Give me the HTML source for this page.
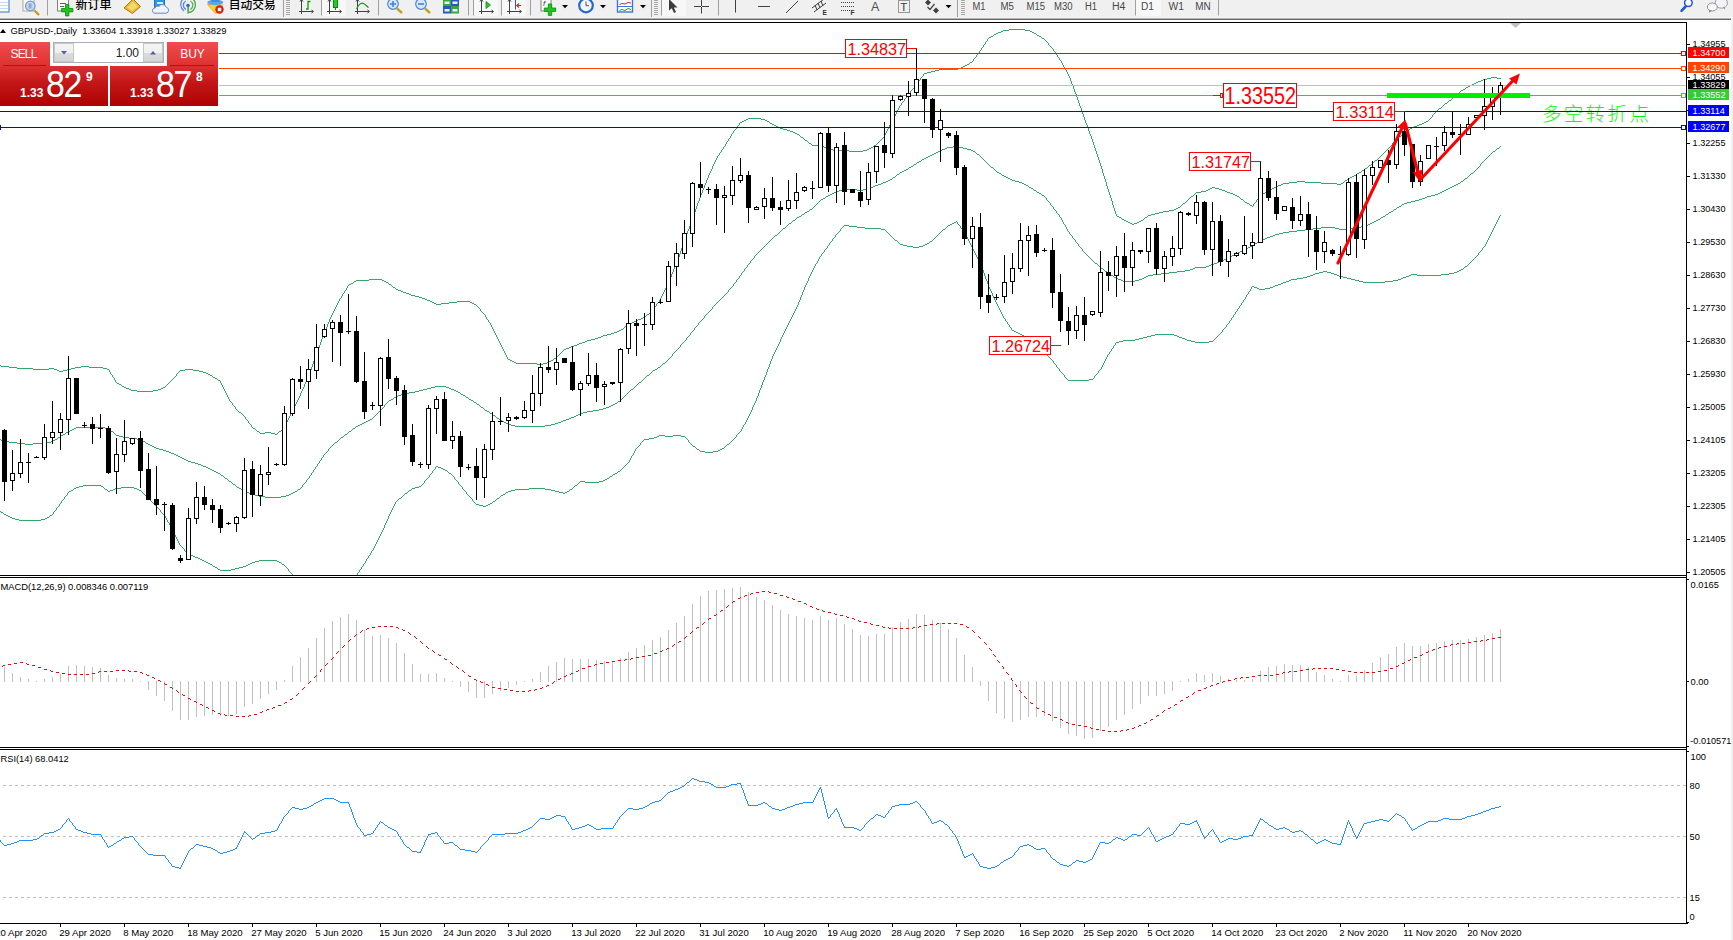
<!DOCTYPE html>
<html lang="zh">
<head>
<meta charset="utf-8">
<title>GBPUSD-,Daily</title>
<style>
html,body{margin:0;padding:0;background:#fff;}
body{width:1733px;height:940px;overflow:hidden;position:relative;font-family:"Liberation Sans","Noto Sans CJK SC",sans-serif;}
#tb{position:absolute;left:0;top:0;width:1733px;height:20px;background:#f0f0f0;overflow:hidden;}
#tb .ln1{position:absolute;left:0;top:17px;width:1733px;height:1px;background:#f6f6f6;}
#tb .ln2{position:absolute;left:0;top:18px;width:1731px;height:1px;background:#b4b4b4;}
#tb .ln3{position:absolute;left:0;top:19px;width:1731px;height:1px;background:#6a6a6a;}
#tb .zh{position:absolute;top:-7px;font-size:12px;line-height:16px;color:#000;font-weight:500;white-space:nowrap;letter-spacing:-0.3px;}
#tb .tf{position:absolute;top:0;font-size:10.5px;line-height:13px;color:#4a4a4a;white-space:nowrap;}
#panel{position:absolute;left:0;top:42px;width:219px;height:64px;background:#fff;}
#panel .sell,#panel .buy{position:absolute;top:0;height:25px;color:#fff;font-size:12px;line-height:24px;text-align:center;background:linear-gradient(#f24c4c,#dc3030);}
#panel .sell{left:0;width:50px;}
#panel .buy{left:167px;width:51px;}
#panel .sell i,#panel .buy i{position:absolute;left:3px;right:4px;bottom:1px;height:1px;background:#b81010;}
#panel .big{position:absolute;top:24px;height:40px;background:linear-gradient(#dc3030,#c41818 40%,#ae0202);color:#fff;}
#panel .bl{left:0;width:108px;}
#panel .br{left:110px;width:108px;}
#panel .sm{position:absolute;bottom:7px;font-size:12px;font-weight:bold;line-height:12px;}
#panel .lg{position:absolute;bottom:3px;font-size:36px;line-height:36px;letter-spacing:-1.5px;transform:scaleX(0.943);transform-origin:left bottom;}
#panel .sup{position:absolute;top:5px;font-size:12px;font-weight:bold;line-height:12px;}
#panel .spin{position:absolute;left:53px;top:0;width:109px;height:19px;border:1px solid #a8b0c0;background:#fff;}
#panel .spin .b{position:absolute;top:0;width:20px;height:19px;background:linear-gradient(#f4f4f4,#f0f0f0 50%,#dcdcdc 50%,#d4d4d4);border:1px solid #c8c8c8;box-sizing:border-box;}
#panel .spin .v{position:absolute;right:24px;top:2px;font-size:12px;line-height:16px;color:#202020;}
</style>
</head>
<body>
<div id="tb">
<svg width="1733" height="17" viewBox="0 0 1733 17" style="position:absolute;left:0;top:0" font-family='"Liberation Sans","Noto Sans CJK SC",sans-serif'>
<rect x="-2" y="-2" width="11" height="14" fill="#fff" stroke="#4a8fd6" stroke-width="1.2"/>
<g stroke="#c8d8f4" stroke-width="1"><line x1="0" y1="2.5" x2="8" y2="2.5"/><line x1="0" y1="5.5" x2="8" y2="5.5"/><line x1="0" y1="8.5" x2="8" y2="8.5"/></g>
<rect x="23" y="-2" width="11" height="13" fill="#fafafa" stroke="#b0a898" stroke-width="1"/>
<line x1="34.5" y1="10.5" x2="39" y2="15" stroke="#c89a20" stroke-width="2.4"/>
<circle cx="30.3" cy="6" r="4.8" fill="#c4daf2" stroke="#6c9cdc" stroke-width="1.2"/>
<rect x="28.5" y="3.5" width="3" height="5" fill="#98a8b8"/>
<rect x="47" y="0" width="1" height="15.5" fill="#a0a0a0"/>
<rect x="57.5" y="-2" width="11" height="13" fill="#fafafa" stroke="#808080" stroke-width="1"/>
<g stroke="#606060" stroke-width="1"><line x1="60" y1="3.5" x2="66" y2="3.5"/><line x1="60" y1="6.5" x2="64" y2="6.5"/></g>
<path d="M65.5 4.5h3.4v4h4v3.4h-4v4h-3.4v-4h-4v-3.4h4z" fill="#22c322" stroke="#0a8a0a" stroke-width="0.8"/>
<text x="75.5" y="8.6" font-size="12px" font-weight="500" fill="#000" textLength="36" lengthAdjust="spacingAndGlyphs">新订单</text>
<polygon points="124,8 133,-1 140.5,6.5 132.5,13.5" fill="#e8b830" stroke="#b07c10" stroke-width="1"/>
<polygon points="127,7.5 133,1.5 138,6.5 132,11" fill="#f6d868"/>
<rect x="154.5" y="-2" width="10" height="10" fill="#2896ee" stroke="#1878d0" stroke-width="1"/>
<rect x="157" y="2" width="6" height="2" fill="#d8ecff"/>
<path d="M154 13.2h12a3 3 0 0 0 .3-5.9a4 4 0 0 0-7.2-1a3 3 0 0 0-4 1.6a2.8 2.8 0 0 0-1.1 5.3z" fill="#eef2fa" stroke="#7088b8" stroke-width="1"/>
<g fill="none" stroke-width="1.3"><path d="M183 -1a8 8 0 0 0 1 12" stroke="#5c88d8"/><path d="M185.8 1a5 5 0 0 0 0 8.6" stroke="#5c88d8"/><path d="M193 -1a8 8 0 0 1-4 13.5" stroke="#48a848"/><path d="M190.4 1a5 5 0 0 1 0 8.6" stroke="#58b058"/></g>
<circle cx="188" cy="5.5" r="1.8" fill="#3060d0"/><rect x="187.4" y="6" width="1.4" height="7.5" fill="#30a030"/>
<path d="M207.5 4.5l15 .5l-1 6l-6 2.5z" fill="#f8d438" stroke="#d8a818" stroke-width="0.8"/>
<ellipse cx="215.3" cy="2.4" rx="8" ry="2.6" fill="#58a8e8"/><rect x="211" y="-2" width="8.5" height="4" fill="#3c90dc"/>
<circle cx="219.5" cy="9.5" r="4.2" fill="#dc2010"/><rect x="217.8" y="7.8" width="3.4" height="3.4" fill="#fff"/>
<text x="228.8" y="8.6" font-size="12px" font-weight="500" fill="#000" textLength="47" lengthAdjust="spacingAndGlyphs">自动交易</text>
<rect x="283" y="0" width="1" height="17" fill="#a0a0a0"/>
<rect x="286" y="0" width="4" height="1" fill="#a8a8a8"/>
<rect x="286" y="2" width="4" height="1" fill="#a8a8a8"/>
<rect x="286" y="4" width="4" height="1" fill="#a8a8a8"/>
<rect x="286" y="6" width="4" height="1" fill="#a8a8a8"/>
<rect x="286" y="8" width="4" height="1" fill="#a8a8a8"/>
<rect x="286" y="10" width="4" height="1" fill="#a8a8a8"/>
<rect x="286" y="12" width="4" height="1" fill="#a8a8a8"/>
<rect x="286" y="14" width="4" height="1" fill="#a8a8a8"/>
<g stroke="#404040" stroke-width="1" fill="none"><line x1="301.5" y1="0" x2="301.5" y2="14"/><line x1="299" y1="11.5" x2="313" y2="11.5"/><polyline points="311.5,10 313.5,11.5 311.5,13"/><polyline points="300,1.5 301.5,-0.5 303,1.5"/></g>
<path d="M310.5 1.5h-2.5v7.5h-2" fill="none" stroke="#109810" stroke-width="1.3"/>
<rect x="321" y="0" width="1" height="15.5" fill="#a0a0a0"/>
<rect x="322" y="0" width="24" height="16" fill="#f8f8f8"/>
<g stroke="#404040" stroke-width="1" fill="none"><line x1="329.5" y1="0" x2="329.5" y2="14"/><line x1="327" y1="11.5" x2="341" y2="11.5"/><polyline points="339.5,10 341.5,11.5 339.5,13"/><polyline points="328,1.5 329.5,-0.5 331,1.5"/></g>
<rect x="333.5" y="-1" width="4" height="8.5" fill="#22cc22" stroke="#0a8a0a" stroke-width="1"/><line x1="335.5" y1="7.5" x2="335.5" y2="10" stroke="#0a8a0a"/>
<g stroke="#404040" stroke-width="1" fill="none"><line x1="357.5" y1="0" x2="357.5" y2="14"/><line x1="355" y1="11.5" x2="369" y2="11.5"/><polyline points="367.5,10 369.5,11.5 367.5,13"/><polyline points="356,1.5 357.5,-0.5 359,1.5"/></g>
<path d="M356.5 9c2.5-5 5-6.5 7-5.5s3 2.500 5 4" fill="none" stroke="#109810" stroke-width="1.2"/>
<rect x="378" y="0" width="1" height="15.5" fill="#a0a0a0"/>
<line x1="397" y1="8.5" x2="402" y2="13" stroke="#c8a020" stroke-width="2.4"/>
<circle cx="393" cy="4" r="5.3" fill="#d4e8fa" stroke="#4c88d8" stroke-width="1.2"/>
<line x1="390" y1="4" x2="396" y2="4" stroke="#4c80d0" stroke-width="1.6"/>
<line x1="393" y1="1" x2="393" y2="7" stroke="#4c80d0" stroke-width="1.6"/>
<line x1="425" y1="8.5" x2="430" y2="13" stroke="#c8a020" stroke-width="2.4"/>
<circle cx="421" cy="4" r="5.3" fill="#d4e8fa" stroke="#4c88d8" stroke-width="1.2"/>
<line x1="418" y1="4" x2="424" y2="4" stroke="#4c80d0" stroke-width="1.6"/>
<rect x="443" y="-1" width="8" height="7" fill="#3aa83a"/><rect x="451" y="-1" width="8" height="7" fill="#2858c8"/><rect x="443" y="6" width="8" height="7.5" fill="#2858c8"/><rect x="451" y="6" width="8" height="7.5" fill="#3aa83a"/>
<g fill="#e8f0ff"><rect x="444.5" y="1.5" width="5" height="2.5"/><rect x="452.5" y="1.5" width="5" height="2.5"/><rect x="444.5" y="9" width="5" height="2.5"/><rect x="452.5" y="9" width="5" height="2.5"/></g>
<rect x="468" y="0" width="1" height="15.5" fill="#a0a0a0"/>
<rect x="473" y="0" width="1" height="15.5" fill="#a0a0a0"/>
<rect x="474" y="0" width="24" height="16" fill="#f8f8f8"/>
<g stroke="#404040" stroke-width="1" fill="none"><line x1="481.5" y1="0" x2="481.5" y2="14"/><line x1="479" y1="11.5" x2="493" y2="11.5"/><polyline points="491.5,10 493.5,11.5 491.5,13"/><polyline points="480,1.5 481.5,-0.5 483,1.5"/></g>
<polygon points="486,1.5 490.5,5 486,8.5" fill="#30c030" stroke="#109010" stroke-width="0.8"/>
<rect x="501" y="0" width="1" height="15.5" fill="#a0a0a0"/>
<rect x="502" y="0" width="24" height="16" fill="#f8f8f8"/>
<g stroke="#404040" stroke-width="1" fill="none"><line x1="509.5" y1="0" x2="509.5" y2="14"/><line x1="507" y1="11.5" x2="521" y2="11.5"/><polyline points="519.5,10 521.5,11.5 519.5,13"/><polyline points="508,1.5 509.5,-0.5 511,1.5"/></g>
<line x1="515.5" y1="0" x2="515.5" y2="9.5" stroke="#2060c0" stroke-width="1"/><path d="M521 5.5h-4m2-2l-2.200 2l2.200 2" fill="none" stroke="#d03010" stroke-width="1.2"/>
<rect x="530" y="0" width="1" height="15.5" fill="#a0a0a0"/>
<rect x="541" y="-2" width="10" height="13" fill="#fafafa" stroke="#808080" stroke-width="1"/>
<text x="543" y="6" font-size="8px" fill="#404040" font-style="italic">f</text>
<path d="M548.3 4h3.400v4h4v3.400h-4v4h-3.400v-4h-4v-3.400h4z" fill="#22c322" stroke="#0a8a0a" stroke-width="0.8"/>
<polygon points="562,5 568,5 565,8.2" fill="#000"/>
<circle cx="586" cy="5.5" r="6.800" fill="#f4f8ff" stroke="#2868c8" stroke-width="2.2"/><path d="M586 1.500v4.200h3" fill="none" stroke="#505050" stroke-width="1"/>
<polygon points="600,5 606,5 603,8.2" fill="#000"/>
<rect x="617.5" y="-2" width="15" height="14" fill="#fff" stroke="#3c78d0" stroke-width="1.4"/><line x1="618" y1="6.500" x2="632" y2="6.500" stroke="#3c78d0"/>
<polyline points="619.5,4.5 622,3.500 625,4 628,2.500 631,3" fill="none" stroke="#c03020" stroke-width="1"/><polyline points="619.5,10.5 622,9.500 625,10.500 628,8.500 631,9.500" fill="none" stroke="#20a020" stroke-width="1"/>
<polygon points="640,5 646,5 643,8.2" fill="#000"/>
<rect x="651" y="0" width="1" height="17" fill="#a0a0a0"/>
<rect x="654" y="0" width="4" height="1" fill="#a8a8a8"/>
<rect x="654" y="2" width="4" height="1" fill="#a8a8a8"/>
<rect x="654" y="4" width="4" height="1" fill="#a8a8a8"/>
<rect x="654" y="6" width="4" height="1" fill="#a8a8a8"/>
<rect x="654" y="8" width="4" height="1" fill="#a8a8a8"/>
<rect x="654" y="10" width="4" height="1" fill="#a8a8a8"/>
<rect x="654" y="12" width="4" height="1" fill="#a8a8a8"/>
<rect x="654" y="14" width="4" height="1" fill="#a8a8a8"/>
<rect x="661" y="0" width="1" height="15.5" fill="#a0a0a0"/>
<rect x="662" y="0" width="24" height="16" fill="#f8f8f8"/>
<polygon points="669,-1 669,10.500 671.8,8.200 674,13 676,12 673.800,7.500 677.5,7.500" fill="#3c3c3c"/>
<g stroke="#404040" stroke-width="1"><line x1="701.5" y1="0" x2="701.5" y2="13.5"/><line x1="694" y1="6.500" x2="709" y2="6.500"/></g>
<rect x="701" y="6" width="1" height="1" fill="#f0f0f0"/>
<rect x="718" y="0" width="1" height="15.5" fill="#a0a0a0"/>
<g stroke="#404040" stroke-width="1"><line x1="735.5" y1="0" x2="735.5" y2="12.5"/><line x1="758" y1="6.500" x2="770" y2="6.500"/><line x1="786" y1="13" x2="798" y2="1"/></g>
<g stroke="#404040" stroke-width="1"><line x1="812" y1="8" x2="824" y2="-1"/><line x1="814" y1="12" x2="826" y2="3"/><line x1="815" y1="5" x2="817" y2="10"/><line x1="818" y1="3" x2="820" y2="8"/><line x1="821" y1="1" x2="823" y2="6"/></g>
<text x="822.500" y="14.800" font-size="6.500px" font-weight="bold" fill="#303030">E</text>
<line x1="841" y1="2.5" x2="854" y2="2.5" stroke="#404040" stroke-width="1" stroke-dasharray="1 1"/>
<line x1="841" y1="6.5" x2="854" y2="6.5" stroke="#404040" stroke-width="1" stroke-dasharray="1 1"/>
<line x1="841" y1="10.5" x2="850" y2="10.5" stroke="#404040" stroke-width="1" stroke-dasharray="1 1"/>
<text x="850.500" y="14.800" font-size="6.500px" font-weight="bold" fill="#303030">F</text>
<text x="871" y="11" font-size="12.500px" fill="#505050">A</text>
<rect x="898.5" y="0.5" width="11" height="12" fill="none" stroke="#404040" stroke-width="1" stroke-dasharray="1 1"/>
<text x="900.300" y="11" font-size="11.500px" fill="#404040">T</text>
<polygon points="928,-0.500 931,2.500 928,5.500 925,2.500" fill="#404040"/><polygon points="936,7.500 939,10.500 936,13.500 933,10.500" fill="#404040"/><polyline points="927.5,7 930,9.500 934.5,4" fill="none" stroke="#404040" stroke-width="1.2"/>
<polygon points="945.5,5 951.5,5 948.5,8.2" fill="#000"/>
<rect x="957" y="0" width="1" height="17" fill="#a0a0a0"/>
<rect x="961" y="0" width="4" height="1" fill="#a8a8a8"/>
<rect x="961" y="2" width="4" height="1" fill="#a8a8a8"/>
<rect x="961" y="4" width="4" height="1" fill="#a8a8a8"/>
<rect x="961" y="6" width="4" height="1" fill="#a8a8a8"/>
<rect x="961" y="8" width="4" height="1" fill="#a8a8a8"/>
<rect x="961" y="10" width="4" height="1" fill="#a8a8a8"/>
<rect x="961" y="12" width="4" height="1" fill="#a8a8a8"/>
<rect x="961" y="14" width="4" height="1" fill="#a8a8a8"/>
<rect x="1136" y="0" width="25" height="16" fill="#f8f8f8"/>
<text x="972.5" y="10" font-size="10px" fill="#484848" textLength="13" lengthAdjust="spacingAndGlyphs">M1</text>
<text x="1000.5" y="10" font-size="10px" fill="#484848" textLength="13.5" lengthAdjust="spacingAndGlyphs">M5</text>
<text x="1026.5" y="10" font-size="10px" fill="#484848" textLength="18.5" lengthAdjust="spacingAndGlyphs">M15</text>
<text x="1054" y="10" font-size="10px" fill="#484848" textLength="18.5" lengthAdjust="spacingAndGlyphs">M30</text>
<text x="1085" y="10" font-size="10px" fill="#484848" textLength="12" lengthAdjust="spacingAndGlyphs">H1</text>
<text x="1112" y="10" font-size="10px" fill="#484848" textLength="13.5" lengthAdjust="spacingAndGlyphs">H4</text>
<text x="1141" y="10" font-size="10px" fill="#484848" textLength="13" lengthAdjust="spacingAndGlyphs">D1</text>
<text x="1168.5" y="10" font-size="10px" fill="#484848" textLength="15.5" lengthAdjust="spacingAndGlyphs">W1</text>
<text x="1195.3" y="10" font-size="10px" fill="#484848" textLength="15.5" lengthAdjust="spacingAndGlyphs">MN</text>
<rect x="1135" y="0" width="1" height="15.5" fill="#a0a0a0"/>
<rect x="1218" y="0" width="1" height="15.5" fill="#a0a0a0"/>
<line x1="1686" y1="6" x2="1681.5" y2="10.800" stroke="#2458d0" stroke-width="2.6" stroke-linecap="round"/><circle cx="1688.4" cy="2.800" r="3.800" fill="#fff" stroke="#2458d0" stroke-width="1.5"/>
<ellipse cx="1721.3" cy="3" rx="6.200" ry="5.200" fill="#f4f4f8" stroke="#a0a0a0" stroke-width="1"/><polygon points="1723,7.500 1725,9.800 1724.5,7" fill="#808080"/>
<ellipse cx="1712.3" cy="7" rx="5" ry="4" fill="#f8f8fa" stroke="#909090" stroke-width="1"/><polygon points="1709.500,10 1709,12.800 1711.500,10.800" fill="#707070"/>
</svg>
<div class="ln1"></div><div class="ln2"></div><div class="ln3"></div>
</div>
<svg width="1733" height="940" viewBox="0 0 1733 940" style="position:absolute;left:0;top:0" font-family='"Liberation Sans","Noto Sans CJK SC",sans-serif' font-size="9.3px" shape-rendering="crispEdges">
<defs><clipPath id="cm"><rect x="0" y="23" width="1686" height="552"/></clipPath><clipPath id="c2"><rect x="0" y="578" width="1686" height="169"/></clipPath><clipPath id="c3"><rect x="0" y="750" width="1686" height="173"/></clipPath></defs>
<rect x="0" y="20" width="1733" height="920" fill="#fff"/>
<rect x="1731" y="20" width="2" height="920" fill="#f0f0f0"/>
<rect x="0" y="22" width="1687" height="1" fill="#000"/>
<rect x="1686" y="22" width="1" height="902" fill="#000"/>
<rect x="0" y="575" width="1687" height="1" fill="#000"/>
<rect x="0" y="577" width="1687" height="1" fill="#000"/>
<rect x="0" y="747" width="1687" height="1" fill="#000"/>
<rect x="0" y="749" width="1687" height="1" fill="#000"/>
<rect x="0" y="923" width="1688" height="1" fill="#000"/>
<g clip-path="url(#cm)">
<path d="M0 365.5h1M1 366.5h8M9 367.5h8M17 368.5h16M33 369.5h16M49 368.5h5M54 369.5h3M57 370.5h2M59 371.5h4M63 370.5h4M67 369.5h4M71 368.5h4M75 367.5h6M81 366.5h8M89 367.5h14M103 368.5h4M107 369.5h2M109.5 370v2M110.5 372v2M111 374.5h1M112.5 375v2M113 377.5h1M114.5 378v2M115.5 380v2M116 382.5h1M117 383.5h2M119 384.5h2M121 385.5h1M122 386.5h2M124 387.5h2M126 388.5h3M129 389.5h2M131 390.5h6M137 391.5h16M153 390.5h5M158 389.5h3M161 388.5h2M163 387.5h2M165 386.5h1M166 385.5h1M167 384.5h1M168 383.5h1M169 382.5h1M170 381.5h1M171 380.5h1M172 379.5h1M173 378.5h1M174 377.5h1M175 376.5h1M176.5 374v2M177 373.5h1M178 372.5h1M179 371.5h1M180 370.5h5M185 369.5h8M193 370.5h6M199 371.5h4M203 372.5h3M206 373.5h2M208 374.5h2M210 375.5h2M212 376.5h1M213 377.5h2M215 378.5h2M217 379.5h1M218 380.5h2M220.5 381v2M221.5 383v2M222.5 385v2M223.5 387v2M224.5 389v2M225.5 391v2M226.5 393v2M227.5 395v2M228.5 397v2M229.5 399v2M230 401.5h1M231 402.5h1M232.5 403v2M233 405.5h1M234 406.5h1M235.5 407v2M236 409.5h1M237 410.5h1M238 411.5h1M239 412.5h2M241 413.5h1M242 414.5h1M243 415.5h1M244 416.5h1M245.5 417v2M246 419.5h1M247 420.5h1M248.5 421v2M249 423.5h1M250 424.5h1M251.5 425v2M252 427.5h1M253 428.5h2M255 429.5h1M256 430.5h1M257 431.5h2M259 432.5h1M260 433.5h5M265 432.5h6M271 433.5h4M275 434.5h2M277 433.5h1M278 432.5h1M279 431.5h2M281 430.5h1M282 429.5h1M283 428.5h1M284.5 426v2M285.5 424v2M286.5 422v2M287.5 420v2M288.5 418v2M289.5 416v2M290.5 414v2M291.5 412v2M292.5 410v2M293.5 408v2M294.5 406v2M295.5 404v2M296.5 402v2M297.5 400v2M298.5 398v2M299.5 396v2M300.5 393v3M301.5 391v2M302.5 389v2M303.5 387v2M304.5 384v3M305.5 382v2M306.5 380v2M307.5 378v2M308.5 375v3M309.5 372v3M310.5 370v2M311.5 367v3M312.5 364v3M313.5 361v3M314.5 359v2M315.5 356v3M316.5 353v3M317.5 350v3M318.5 348v2M319.5 345v3M320.5 342v3M321.5 339v3M322.5 337v2M323.5 334v3M324.5 331v3M325.5 329v2M326.5 327v2M327.5 324v3M328.5 322v2M329.5 319v3M330.5 317v2M331.5 315v2M332.5 313v2M333.5 311v2M334.5 309v2M335.5 307v2M336.5 305v2M337.5 303v2M338.5 301v2M339.5 299v2M340 298.5h1M341.5 296v2M342.5 294v2M343 293.5h1M344.5 291v2M345 290.5h1M346.5 288v2M347.5 286v2M348 285.5h1M349 284.5h2M351 283.5h2M353 282.5h1M354 281.5h2M356 280.5h13M369 279.5h13M382 280.5h2M384 281.5h2M386 282.5h2M388 283.5h1M389 284.5h2M391 285.5h1M392 286.5h1M393 287.5h2M395 288.5h1M396 289.5h2M398 290.5h3M401 291.5h2M403 292.5h3M406 293.5h3M409 294.5h2M411 295.5h4M415 296.5h4M419 297.5h3M422 298.5h3M425 299.5h2M427 300.5h3M430 301.5h2M432 302.5h2M434 303.5h2M436 304.5h5M441 303.5h8M449 302.5h8M457 301.5h13M470 302.5h2M472 303.5h2M474 304.5h2M476 305.5h1M477 306.5h1M478 307.5h1M479 308.5h1M480.5 309v2M481 311.5h1M482 312.5h1M483 313.5h1M484 314.5h1M485.5 315v2M486.5 317v2M487 319.5h1M488.5 320v2M489 322.5h1M490.5 323v2M491.5 325v2M492.5 327v2M493.5 329v2M494.5 331v2M495.5 333v2M496.5 335v2M497.5 337v2M498.5 339v2M499.5 341v2M500.5 343v2M501.5 345v2M502.5 347v2M503.5 349v2M504.5 351v2M505.5 353v2M506.5 355v2M507.5 357v2M508 359.5h2M510 360.5h2M512 361.5h2M514 362.5h2M516 363.5h21M537 364.5h6M543 363.5h4M547 362.5h2M549 361.5h2M551 360.5h2M553 359.5h1M554 358.5h2M556 357.5h1M557 356.5h1M558 355.5h1M559 354.5h1M560 353.5h1M561 352.5h1M562 351.5h1M563 350.5h1M564 349.5h2M566 348.5h3M569 347.5h2M571 346.5h3M574 345.5h3M577 344.5h2M579 343.5h3M582 342.5h3M585 341.5h2M587 340.5h4M591 339.5h4M595 338.5h3M598 337.5h3M601 336.5h2M603 335.5h4M607 334.5h4M611 333.5h3M614 332.5h3M617 331.5h2M619 330.5h2M621 329.5h2M623 328.5h1M624 327.5h1M625 326.5h2M627 325.5h1M628 324.5h2M630 323.5h2M632 322.5h2M634 321.5h2M636 320.5h2M638 319.5h3M641 318.5h2M643 317.5h2M645 316.5h1M646 315.5h1M647 314.5h2M649 313.5h1M650 312.5h1M651 311.5h1M652 310.5h1M653.5 308v2M654 307.5h1M655 306.5h1M656.5 304v2M657 303.5h1M658 302.5h1M659.5 300v2M660.5 298v2M661.5 296v2M662.5 294v2M663.5 292v2M664.5 290v2M665.5 288v2M666.5 286v2M667.5 284v2M668.5 281v3M669.5 279v2M670.5 277v2M671.5 274v3M672.5 272v2M673.5 269v3M674.5 267v2M675.5 265v2M676.5 262v3M677.5 259v3M678.5 257v2M679.5 254v3M680.5 251v3M681.5 248v3M682.5 246v2M683.5 243v3M684.5 240v3M685.5 237v3M686.5 234v3M687.5 231v3M688.5 229v2M689.5 226v3M690.5 223v3M691.5 220v3M692.5 217v3M693.5 214v3M694.5 212v2M695.5 209v3M696.5 206v3M697.5 203v3M698.5 201v2M699.5 198v3M700.5 195v3M701.5 193v2M702.5 190v3M703.5 188v2M704.5 185v3M705.5 183v2M706.5 180v3M707.5 178v2M708.5 175v3M709.5 173v2M710.5 171v2M711.5 169v2M712.5 166v3M713.5 164v2M714.5 162v2M715.5 160v2M716.5 158v2M717.5 156v2M718 155.5h1M719.5 153v2M720 152.5h1M721.5 150v2M722 149.5h1M723.5 147v2M724 146.5h1M725.5 144v2M726.5 142v2M727 141.5h1M728.5 139v2M729 138.5h1M730.5 136v2M731.5 134v2M732 133.5h1M733.5 131v2M734 130.5h1M735 129.5h1M736.5 127v2M737 126.5h1M738 125.5h1M739.5 123v2M740 122.5h2M742 121.5h2M744 120.5h2M746 119.5h2M748 118.5h13M761 119.5h4M765 120.5h2M767 121.5h2M769 122.5h1M770 123.5h2M772 124.5h2M774 125.5h2M776 126.5h2M778 127.5h2M780 128.5h3M783 129.5h4M787 130.5h3M790 131.5h3M793 132.5h2M795 133.5h2M797 134.5h2M799 135.5h1M800 136.5h1M801 137.5h2M803 138.5h1M804 139.5h1M805 140.5h2M807 141.5h1M808 142.5h1M809 143.5h2M811 144.5h1M812 145.5h10M822 146.5h2M824 147.5h2M826 148.5h2M828 149.5h5M833 150.5h16M849 151.5h14M863 150.5h4M867 149.5h2M869 148.5h2M871 147.5h2M873 146.5h1M874 145.5h2M876 144.5h1M877 143.5h1M878 142.5h1M879 141.5h1M880 140.5h1M881 139.5h1M882 138.5h1M883 137.5h1M884.5 135v2M885.5 133v2M886.5 131v2M887.5 129v2M888.5 127v2M889.5 125v2M890.5 123v2M891.5 121v2M892 120.5h1M893.5 118v2M894.5 116v2M895.5 114v2M896.5 112v2M897.5 110v2M898.5 108v2M899.5 106v2M900 105.5h1M901.5 103v2M902 102.5h1M903 101.5h1M904.5 99v2M905 98.5h1M906 97.5h1M907.5 95v2M908 94.5h1M909 93.5h1M910.5 91v2M911 90.5h1M912 89.5h1M913 88.5h1M914.5 86v2M915 85.5h1M916 84.5h1M917.5 82v2M918 81.5h1M919 80.5h1M920.5 78v2M921 77.5h1M922 76.5h1M923.5 74v2M924 73.5h3M927 72.5h4M931 71.5h4M935 70.5h4M939 69.5h19M958 68.5h3M961 67.5h2M963 66.5h2M965 65.5h2M967 64.5h2M969 63.5h1M970 62.5h2M972 61.5h1M973.5 59v2M974 58.5h1M975 57.5h1M976.5 55v2M977 54.5h1M978 53.5h1M979.5 51v2M980 50.5h1M981.5 48v2M982 47.5h1M983.5 45v2M984 44.5h1M985.5 42v2M986 41.5h1M987.5 39v2M988 38.5h1M989 37.5h2M991 36.5h2M993 35.5h1M994 34.5h2M996 33.5h2M998 32.5h3M1001 31.5h2M1003 30.5h6M1009 29.5h16M1025 30.5h5M1030 31.5h2M1032 32.5h2M1034 33.5h2M1036 34.5h1M1037 35.5h2M1039 36.5h2M1041 37.5h1M1042 38.5h2M1044 39.5h1M1045 40.5h1M1046 41.5h1M1047 42.5h1M1048.5 43v2M1049 45.5h1M1050 46.5h1M1051 47.5h1M1052 48.5h1M1053.5 49v2M1054 51.5h1M1055.5 52v2M1056 54.5h1M1057.5 55v2M1058 57.5h1M1059.5 58v2M1060 60.5h1M1061.5 61v2M1062.5 63v2M1063.5 65v2M1064 67.5h1M1065.5 68v2M1066.5 70v2M1067.5 72v2M1068.5 74v2M1069.5 76v2M1070.5 78v3M1071.5 81v3M1072.5 84v2M1073.5 86v3M1074.5 89v3M1075.5 92v2M1076.5 94v3M1077.5 97v3M1078.5 100v3M1079.5 103v3M1080.5 106v2M1081.5 108v3M1082.5 111v3M1083.5 114v3M1084.5 117v3M1085.5 120v3M1086.5 123v2M1087.5 125v3M1088.5 128v3M1089.5 131v3M1090.5 134v2M1091.5 136v3M1092.5 139v3M1093.5 142v3M1094.5 145v3M1095.5 148v3M1096.5 151v3M1097.5 154v3M1098.5 157v3M1099.5 160v3M1100.5 163v3M1101.5 166v3M1102.5 169v4M1103.5 173v3M1104.5 176v3M1105.5 179v3M1106.5 182v4M1107.5 186v3M1108.5 189v3M1109.5 192v3M1110.5 195v3M1111.5 198v3M1112.5 201v4M1113.5 205v3M1114.5 208v3M1115.5 211v3M1116.5 214v2M1117 216.5h2M1119 217.5h2M1121 218.5h1M1122 219.5h2M1124 220.5h2M1126 221.5h2M1128 222.5h2M1130 223.5h2M1132 224.5h2M1134 223.5h3M1137 222.5h2M1139 221.5h2M1141 220.5h2M1143 219.5h1M1144 218.5h1M1145 217.5h2M1147 216.5h1M1148 215.5h3M1151 214.5h4M1155 213.5h4M1159 212.5h4M1163 211.5h6M1169 210.5h5M1174 209.5h2M1176 208.5h2M1178 207.5h2M1180 206.5h1M1181 205.5h1M1182 204.5h1M1183 203.5h2M1185 202.5h1M1186 201.5h1M1187 200.5h1M1188 199.5h1M1189 198.5h1M1190 197.5h1M1191 196.5h2M1193 195.5h1M1194 194.5h1M1195 193.5h1M1196 192.5h5M1201 191.5h5M1206 190.5h2M1208 189.5h2M1210 188.5h2M1212 187.5h3M1215 188.5h4M1219 189.5h3M1222 190.5h3M1225 191.5h2M1227 192.5h3M1230 193.5h3M1233 194.5h2M1235 195.5h2M1237 196.5h2M1239 197.5h1M1240 198.5h1M1241 199.5h2M1243 200.5h1M1244 201.5h1M1245 202.5h2M1247 203.5h2M1249 204.5h1M1250 205.5h2M1252 206.5h1M1253.5 204v2M1254 203.5h1M1255 202.5h1M1256.5 200v2M1257 199.5h1M1258 198.5h1M1259.5 196v2M1260 195.5h1M1261 194.5h2M1263 193.5h2M1265 192.5h1M1266 191.5h2M1268 190.5h2M1270 189.5h2M1272 188.5h2M1274 187.5h2M1276 186.5h2M1278 185.5h3M1281 184.5h2M1283 183.5h6M1289 182.5h8M1297 181.5h8M1305 182.5h16M1321 183.5h16M1337 184.5h4M1341 183.5h2M1343 182.5h1M1344 181.5h1M1345 180.5h2M1347 179.5h1M1348 178.5h2M1350 177.5h2M1352 176.5h2M1354 175.5h2M1356 174.5h1M1357 173.5h2M1359 172.5h2M1361 171.5h1M1362 170.5h2M1364 169.5h1M1365 168.5h2M1367 167.5h1M1368 166.5h1M1369 165.5h2M1371 164.5h1M1372 163.5h1M1373 162.5h1M1374 161.5h1M1375 160.5h2M1377 159.5h1M1378 158.5h1M1379 157.5h1M1380 156.5h1M1381 155.5h1M1382 154.5h1M1383 153.5h1M1384 152.5h1M1385 151.5h1M1386 150.5h1M1387 149.5h1M1388 148.5h1M1389 147.5h1M1390 146.5h1M1391 145.5h1M1392.5 143v2M1393 142.5h1M1394 141.5h1M1395 140.5h1M1396 139.5h1M1397 138.5h1M1398 137.5h1M1399 136.5h2M1401 135.5h1M1402 134.5h1M1403 133.5h1M1404 132.5h1M1405 131.5h2M1407 130.5h2M1409 129.5h1M1410 128.5h2M1412 127.5h2M1414 126.5h3M1417 125.5h2M1419 124.5h3M1422 123.5h2M1424 122.5h2M1426 121.5h2M1428 120.5h1M1429 119.5h1M1430 118.5h1M1431 117.5h1M1432.5 115v2M1433 114.5h1M1434 113.5h1M1435 112.5h1M1436 111.5h1M1437 110.5h1M1438 109.5h1M1439 108.5h2M1441 107.5h1M1442 106.5h1M1443 105.5h1M1444 104.5h1M1445 103.5h2M1447 102.5h1M1448 101.5h1M1449 100.5h2M1451 99.5h1M1452 98.5h1M1453 97.5h1M1454 96.5h1M1455 95.5h2M1457 94.5h1M1458 93.5h1M1459 92.5h1M1460 91.5h1M1461 90.5h2M1463 89.5h2M1465 88.5h1M1466 87.5h2M1468 86.5h2M1470 85.5h2M1472 84.5h2M1474 83.5h2M1476 82.5h2M1478 81.5h3M1481 80.5h2M1483 79.5h4M1487 78.5h4M1491 77.5h6M1497 78.5h4" fill="none" stroke="#2fa968" stroke-width="1"/>
<path d="M0 439.5h1M1 440.5h2M3 441.5h6M9 442.5h8M17 443.5h8M25 444.5h8M33 443.5h14M47 442.5h4M51 441.5h2M53 440.5h2M55 439.5h2M57 438.5h1M58 437.5h2M60 436.5h1M61 435.5h2M63 434.5h2M65 433.5h1M66 432.5h2M68 431.5h2M70 430.5h2M72 429.5h2M74 428.5h2M76 427.5h29M105 428.5h4M109 429.5h1M110 430.5h1M111 431.5h2M113 432.5h1M114 433.5h1M115 434.5h1M116 435.5h3M119 436.5h4M123 437.5h6M129 438.5h8M137 439.5h4M141 440.5h2M143 441.5h2M145 442.5h1M146 443.5h2M148 444.5h2M150 445.5h2M152 446.5h2M154 447.5h2M156 448.5h3M159 449.5h4M163 450.5h3M166 451.5h3M169 452.5h2M171 453.5h3M174 454.5h2M176 455.5h2M178 456.5h2M180 457.5h2M182 458.5h2M184 459.5h2M186 460.5h2M188 461.5h3M191 462.5h4M195 463.5h3M198 464.5h3M201 465.5h2M203 466.5h3M206 467.5h2M208 468.5h2M210 469.5h2M212 470.5h2M214 471.5h2M216 472.5h2M218 473.5h2M220 474.5h1M221 475.5h2M223 476.5h1M224 477.5h1M225 478.5h2M227 479.5h1M228 480.5h1M229 481.5h2M231 482.5h1M232 483.5h1M233 484.5h2M235 485.5h1M236 486.5h1M237 487.5h2M239 488.5h2M241 489.5h1M242 490.5h2M244 491.5h2M246 492.5h3M249 493.5h2M251 494.5h4M255 495.5h4M259 496.5h6M265 497.5h16M281 496.5h5M286 495.5h3M289 494.5h2M291 493.5h2M293 492.5h2M295 491.5h2M297 490.5h1M298 489.5h2M300 488.5h1M301 487.5h1M302.5 485v2M303 484.5h1M304 483.5h1M305 482.5h1M306.5 480v2M307 479.5h1M308 478.5h1M309.5 476v2M310 475.5h1M311.5 473v2M312 472.5h1M313.5 470v2M314 469.5h1M315.5 467v2M316 466.5h1M317.5 464v2M318 463.5h1M319.5 461v2M320 460.5h1M321.5 458v2M322 457.5h1M323.5 455v2M324 454.5h1M325 453.5h1M326 452.5h1M327 451.5h1M328.5 449v2M329 448.5h1M330 447.5h1M331 446.5h1M332 445.5h1M333 444.5h1M334 443.5h1M335 442.5h2M337 441.5h1M338 440.5h1M339 439.5h1M340 438.5h1M341 437.5h2M343 436.5h1M344 435.5h1M345 434.5h2M347 433.5h1M348 432.5h1M349 431.5h2M351 430.5h1M352 429.5h1M353 428.5h2M355 427.5h1M356 426.5h2M358 425.5h2M360 424.5h2M362 423.5h2M364 422.5h2M366 421.5h2M368 420.5h2M370 419.5h2M372 418.5h1M373 417.5h1M374 416.5h1M375 415.5h1M376 414.5h1M377 413.5h1M378 412.5h1M379 411.5h1M380 410.5h1M381 409.5h1M382 408.5h1M383 407.5h1M384.5 405v2M385 404.5h1M386 403.5h1M387 402.5h1M388 401.5h1M389 400.5h2M391 399.5h2M393 398.5h1M394 397.5h2M396 396.5h2M398 395.5h3M401 394.5h2M403 393.5h6M409 392.5h6M415 391.5h4M419 390.5h4M423 389.5h4M427 388.5h4M431 387.5h4M435 386.5h11M446 387.5h3M449 388.5h2M451 389.5h3M454 390.5h2M456 391.5h2M458 392.5h2M460 393.5h1M461 394.5h2M463 395.5h2M465 396.5h1M466 397.5h2M468 398.5h1M469 399.5h2M471 400.5h2M473 401.5h1M474 402.5h2M476 403.5h1M477 404.5h2M479 405.5h1M480 406.5h1M481 407.5h2M483 408.5h1M484 409.5h1M485 410.5h2M487 411.5h2M489 412.5h1M490 413.5h2M492 414.5h1M493 415.5h2M495 416.5h1M496 417.5h1M497 418.5h2M499 419.5h1M500 420.5h2M502 421.5h2M504 422.5h2M506 423.5h2M508 424.5h3M511 425.5h4M515 426.5h30M545 425.5h6M551 424.5h4M555 423.5h3M558 422.5h3M561 421.5h2M563 420.5h3M566 419.5h3M569 418.5h2M571 417.5h3M574 416.5h2M576 415.5h2M578 414.5h2M580 413.5h3M583 412.5h4M587 411.5h6M593 410.5h6M599 409.5h4M603 408.5h3M606 407.5h3M609 406.5h2M611 405.5h2M613 404.5h2M615 403.5h2M617 402.5h1M618 401.5h2M620 400.5h1M621 399.5h1M622 398.5h1M623 397.5h1M624 396.5h1M625 395.5h1M626 394.5h1M627 393.5h1M628 392.5h1M629 391.5h1M630 390.5h1M631 389.5h2M633 388.5h1M634 387.5h1M635 386.5h1M636 385.5h1M637 384.5h1M638 383.5h1M639 382.5h2M641 381.5h1M642 380.5h1M643 379.5h1M644 378.5h1M645 377.5h1M646 376.5h1M647 375.5h2M649 374.5h1M650 373.5h1M651 372.5h1M652 371.5h1M653 370.5h2M655 369.5h2M657 368.5h1M658 367.5h2M660 366.5h1M661 365.5h1M662 364.5h1M663 363.5h2M665 362.5h1M666 361.5h1M667 360.5h1M668 359.5h1M669 358.5h1M670 357.5h1M671 356.5h1M672.5 354v2M673 353.5h1M674 352.5h1M675 351.5h1M676 350.5h1M677 349.5h1M678 348.5h1M679 347.5h1M680.5 345v2M681 344.5h1M682 343.5h1M683 342.5h1M684 341.5h1M685 340.5h1M686.5 338v2M687 337.5h1M688 336.5h1M689 335.5h1M690.5 333v2M691 332.5h1M692 331.5h1M693 330.5h1M694.5 328v2M695 327.5h1M696 326.5h1M697 325.5h1M698.5 323v2M699 322.5h1M700 321.5h1M701 320.5h1M702 319.5h1M703 318.5h1M704.5 316v2M705 315.5h1M706 314.5h1M707 313.5h1M708 312.5h1M709 311.5h1M710 310.5h1M711 309.5h1M712.5 307v2M713 306.5h1M714 305.5h1M715 304.5h1M716 303.5h1M717 302.5h1M718 301.5h1M719 300.5h1M720 299.5h1M721 298.5h1M722 297.5h1M723 296.5h1M724 295.5h1M725 294.5h1M726 293.5h1M727 292.5h1M728.5 290v2M729 289.5h1M730 288.5h1M731 287.5h1M732 286.5h1M733.5 284v2M734 283.5h1M735 282.5h1M736.5 280v2M737 279.5h1M738 278.5h1M739.5 276v2M740 275.5h1M741.5 273v2M742 272.5h1M743 271.5h1M744.5 269v2M745 268.5h1M746 267.5h1M747.5 265v2M748 264.5h1M749 263.5h1M750.5 261v2M751 260.5h1M752 259.5h1M753 258.5h1M754.5 256v2M755 255.5h1M756 254.5h1M757 253.5h1M758 252.5h1M759 251.5h1M760 250.5h1M761 249.5h1M762 248.5h1M763 247.5h1M764 246.5h1M765 245.5h1M766 244.5h1M767 243.5h1M768 242.5h1M769 241.5h1M770 240.5h1M771 239.5h1M772 238.5h1M773 237.5h1M774 236.5h1M775 235.5h2M777 234.5h1M778 233.5h1M779 232.5h1M780 231.5h1M781 230.5h1M782 229.5h1M783 228.5h2M785 227.5h1M786 226.5h1M787 225.5h1M788 224.5h1M789 223.5h2M791 222.5h1M792 221.5h1M793 220.5h2M795 219.5h1M796 218.5h1M797 217.5h2M799 216.5h2M801 215.5h1M802 214.5h2M804 213.5h1M805 212.5h2M807 211.5h2M809 210.5h1M810 209.5h2M812 208.5h1M813 207.5h1M814 206.5h1M815 205.5h1M816 204.5h1M817 203.5h1M818 202.5h1M819 201.5h1M820 200.5h1M821 199.5h2M823 198.5h2M825 197.5h1M826 196.5h2M828 195.5h2M830 194.5h2M832 193.5h2M834 192.5h2M836 191.5h3M839 190.5h4M843 189.5h14M857 190.5h6M863 189.5h4M867 188.5h3M870 187.5h3M873 186.5h2M875 185.5h3M878 184.5h3M881 183.5h2M883 182.5h3M886 181.5h2M888 180.5h2M890 179.5h2M892 178.5h1M893 177.5h2M895 176.5h1M896 175.5h1M897 174.5h2M899 173.5h1M900 172.5h2M902 171.5h2M904 170.5h2M906 169.5h2M908 168.5h1M909 167.5h2M911 166.5h2M913 165.5h1M914 164.5h2M916 163.5h1M917 162.5h2M919 161.5h2M921 160.5h1M922 159.5h2M924 158.5h2M926 157.5h2M928 156.5h2M930 155.5h2M932 154.5h2M934 153.5h2M936 152.5h2M938 151.5h2M940 150.5h2M942 149.5h3M945 148.5h2M947 147.5h6M953 146.5h6M959 147.5h4M963 148.5h4M967 149.5h4M971 150.5h2M973 151.5h2M975 152.5h1M976 153.5h1M977 154.5h2M979 155.5h1M980 156.5h1M981 157.5h1M982 158.5h1M983 159.5h1M984 160.5h1M985 161.5h1M986 162.5h1M987 163.5h1M988 164.5h1M989 165.5h1M990 166.5h1M991 167.5h2M993 168.5h1M994 169.5h1M995 170.5h1M996 171.5h1M997 172.5h2M999 173.5h2M1001 174.5h1M1002 175.5h2M1004 176.5h2M1006 177.5h2M1008 178.5h2M1010 179.5h2M1012 180.5h3M1015 181.5h4M1019 182.5h3M1022 183.5h2M1024 184.5h2M1026 185.5h2M1028 186.5h1M1029 187.5h2M1031 188.5h2M1033 189.5h1M1034 190.5h2M1036 191.5h1M1037 192.5h2M1039 193.5h2M1041 194.5h1M1042 195.5h2M1044 196.5h1M1045 197.5h1M1046.5 198v2M1047 200.5h1M1048 201.5h1M1049 202.5h1M1050.5 203v2M1051 205.5h1M1052 206.5h1M1053.5 207v2M1054 209.5h1M1055 210.5h1M1056.5 211v2M1057 213.5h1M1058 214.5h1M1059.5 215v2M1060 217.5h1M1061.5 218v2M1062.5 220v2M1063.5 222v2M1064 224.5h1M1065.5 225v2M1066.5 227v2M1067.5 229v2M1068 231.5h1M1069.5 232v2M1070 234.5h1M1071 235.5h1M1072.5 236v2M1073 238.5h1M1074 239.5h1M1075.5 240v2M1076 242.5h1M1077 243.5h1M1078.5 244v2M1079 246.5h1M1080 247.5h1M1081 248.5h1M1082.5 249v2M1083 251.5h1M1084 252.5h1M1085 253.5h1M1086 254.5h1M1087 255.5h1M1088 256.5h1M1089 257.5h1M1090 258.5h1M1091 259.5h1M1092 260.5h1M1093 261.5h1M1094 262.5h1M1095 263.5h2M1097 264.5h1M1098 265.5h1M1099 266.5h1M1100 267.5h1M1101 268.5h2M1103 269.5h1M1104 270.5h1M1105 271.5h2M1107 272.5h1M1108 273.5h1M1109 274.5h2M1111 275.5h2M1113 276.5h1M1114 277.5h2M1116 278.5h2M1118 279.5h3M1121 280.5h2M1123 281.5h12M1135 280.5h4M1139 279.5h3M1142 278.5h2M1144 277.5h2M1146 276.5h2M1148 275.5h5M1153 274.5h8M1161 273.5h8M1169 272.5h8M1177 271.5h8M1185 270.5h5M1190 269.5h3M1193 268.5h2M1195 267.5h11M1206 266.5h3M1209 265.5h2M1211 264.5h3M1214 263.5h3M1217 262.5h2M1219 261.5h3M1222 260.5h2M1224 259.5h2M1226 258.5h2M1228 257.5h2M1230 256.5h2M1232 255.5h2M1234 254.5h2M1236 253.5h2M1238 252.5h2M1240 251.5h2M1242 250.5h2M1244 249.5h2M1246 248.5h2M1248 247.5h2M1250 246.5h2M1252 245.5h1M1253 244.5h2M1255 243.5h2M1257 242.5h1M1258 241.5h2M1260 240.5h2M1262 239.5h3M1265 238.5h2M1267 237.5h3M1270 236.5h3M1273 235.5h2M1275 234.5h4M1279 233.5h4M1283 232.5h6M1289 231.5h8M1297 230.5h8M1305 229.5h8M1313 228.5h8M1321 227.5h14M1335 228.5h4M1339 229.5h12M1351 228.5h4M1355 227.5h6M1361 226.5h5M1366 225.5h2M1368 224.5h2M1370 223.5h2M1372 222.5h2M1374 221.5h2M1376 220.5h2M1378 219.5h2M1380 218.5h1M1381 217.5h2M1383 216.5h2M1385 215.5h1M1386 214.5h2M1388 213.5h1M1389 212.5h2M1391 211.5h2M1393 210.5h1M1394 209.5h2M1396 208.5h1M1397 207.5h2M1399 206.5h2M1401 205.5h1M1402 204.5h2M1404 203.5h3M1407 202.5h4M1411 201.5h4M1415 200.5h4M1419 199.5h3M1422 198.5h3M1425 197.5h2M1427 196.5h4M1431 195.5h4M1435 194.5h3M1438 193.5h2M1440 192.5h2M1442 191.5h2M1444 190.5h2M1446 189.5h2M1448 188.5h2M1450 187.5h2M1452 186.5h2M1454 185.5h2M1456 184.5h2M1458 183.5h2M1460 182.5h1M1461 181.5h2M1463 180.5h1M1464 179.5h1M1465 178.5h2M1467 177.5h1M1468 176.5h1M1469 175.5h1M1470 174.5h1M1471 173.5h2M1473 172.5h1M1474 171.5h1M1475 170.5h1M1476 169.5h1M1477 168.5h1M1478 167.5h1M1479 166.5h1M1480.5 164v2M1481 163.5h1M1482 162.5h1M1483 161.5h1M1484 160.5h1M1485 159.5h1M1486 158.5h1M1487 157.5h1M1488 156.5h1M1489 155.5h1M1490 154.5h1M1491 153.5h1M1492 152.5h1M1493 151.5h2M1495 150.5h1M1496 149.5h1M1497 148.5h2M1499 147.5h1M1500 146.5h1" fill="none" stroke="#2fa968" stroke-width="1"/>
<path d="M0 511.5h1M1 512.5h2M3 513.5h1M4 514.5h2M6 515.5h2M8 516.5h2M10 517.5h2M12 518.5h3M15 519.5h4M19 520.5h22M41 519.5h4M45 518.5h2M47 517.5h2M49 516.5h1M50 515.5h2M52 514.5h1M53.5 512v2M54 511.5h1M55 510.5h1M56.5 508v2M57 507.5h1M58 506.5h1M59.5 504v2M60 503.5h1M61.5 501v2M62 500.5h1M63 499.5h1M64.5 497v2M65 496.5h1M66 495.5h1M67.5 493v2M68 492.5h1M69 491.5h2M71 490.5h2M73 489.5h1M74 488.5h2M76 487.5h3M79 486.5h4M83 485.5h18M101 486.5h2M103 487.5h1M104 488.5h1M105 489.5h2M107 490.5h1M108 491.5h2M110 490.5h3M113 489.5h2M115 488.5h6M121 487.5h13M134 488.5h3M137 489.5h2M139 490.5h2M141 491.5h1M142 492.5h1M143 493.5h1M144 494.5h1M145 495.5h1M146 496.5h1M147 497.5h1M148 498.5h1M149 499.5h1M150 500.5h1M151 501.5h1M152 502.5h1M153 503.5h1M154 504.5h1M155 505.5h1M156 506.5h1M157 507.5h1M158 508.5h1M159 509.5h1M160.5 510v2M161 512.5h1M162 513.5h1M163 514.5h1M164 515.5h1M165.5 516v2M166.5 518v2M167.5 520v2M168 522.5h1M169.5 523v2M170.5 525v2M171.5 527v2M172.5 529v2M173.5 531v2M174.5 533v2M175.5 535v2M176.5 537v2M177.5 539v2M178.5 541v2M179.5 543v2M180 545.5h1M181 546.5h1M182 547.5h1M183 548.5h1M184.5 549v2M185 551.5h1M186 552.5h1M187 553.5h1M188 554.5h2M190 555.5h3M193 556.5h2M195 557.5h3M198 558.5h2M200 559.5h2M202 560.5h2M204 561.5h2M206 562.5h2M208 563.5h2M210 564.5h2M212 565.5h1M213 566.5h2M215 567.5h2M217 568.5h1M218 569.5h2M220 570.5h11M231 569.5h4M235 568.5h4M239 567.5h4M243 566.5h3M246 565.5h2M248 564.5h2M250 563.5h2M252 562.5h3M255 561.5h4M259 560.5h18M277 561.5h2M279 562.5h2M281 563.5h1M282 564.5h2M284 565.5h1M285 566.5h1M286 567.5h1M287 568.5h1M288.5 569v2M289 571.5h1M290 572.5h1M291 573.5h1M292 574.5h1M293.5 575v2M294.5 577v2M295.5 579v2M296 581.5h1M297.5 582v2M298.5 584v2M299.5 586v2M300 588.5h1M301.5 589v2M302 591.5h1M303 592.5h1M304.5 593v2M305 595.5h1M306 596.5h1M307.5 597v2M308 599.5h5M313 600.5h28M341 599.5h1M342 598.5h1M343 597.5h1M344.5 595v2M345 594.5h1M346 593.5h1M347 592.5h1M348.5 590v2M349.5 588v2M350.5 586v2M351.5 584v2M352.5 582v2M353.5 580v2M354.5 578v2M355.5 576v2M356 575.5h1M357.5 573v2M358 572.5h1M359.5 570v2M360 569.5h1M361.5 567v2M362 566.5h1M363.5 564v2M364 563.5h1M365.5 561v2M366.5 559v2M367 558.5h1M368.5 556v2M369 555.5h1M370.5 553v2M371.5 551v2M372 550.5h1M373.5 548v2M374.5 546v2M375.5 544v2M376.5 542v2M377.5 540v2M378.5 538v2M379.5 536v2M380.5 534v2M381.5 532v2M382.5 530v2M383.5 528v2M384.5 525v3M385.5 523v2M386.5 521v2M387.5 519v2M388.5 516v3M389.5 514v2M390.5 512v2M391.5 510v2M392.5 508v2M393.5 506v2M394.5 504v2M395.5 502v2M396 501.5h1M397 500.5h1M398 499.5h1M399 498.5h2M401 497.5h1M402 496.5h1M403 495.5h1M404 494.5h1M405 493.5h2M407 492.5h1M408 491.5h1M409 490.5h2M411 489.5h1M412 488.5h3M415 487.5h4M419 486.5h2M421 485.5h1M422 484.5h1M423 483.5h1M424.5 481v2M425 480.5h1M426 479.5h1M427 478.5h1M428 477.5h1M429.5 475v2M430 474.5h1M431 473.5h1M432.5 471v2M433 470.5h1M434 469.5h1M435.5 467v2M436 466.5h2M438 467.5h3M441 468.5h2M443 469.5h2M445 470.5h2M447 471.5h1M448 472.5h1M449 473.5h2M451 474.5h1M452 475.5h1M453 476.5h1M454.5 477v2M455 479.5h1M456 480.5h1M457 481.5h1M458.5 482v2M459 484.5h1M460 485.5h1M461 486.5h1M462.5 487v2M463 489.5h1M464 490.5h1M465 491.5h1M466.5 492v2M467 494.5h1M468 495.5h1M469 496.5h1M470 497.5h1M471 498.5h1M472.5 499v2M473 501.5h1M474 502.5h1M475 503.5h1M476 504.5h3M479 505.5h4M483 506.5h3M486 505.5h2M488 504.5h2M490 503.5h2M492 502.5h1M493 501.5h2M495 500.5h1M496 499.5h1M497 498.5h2M499 497.5h1M500 496.5h1M501 495.5h2M503 494.5h2M505 493.5h1M506 492.5h2M508 491.5h3M511 490.5h4M515 489.5h14M529 488.5h16M545 489.5h6M551 490.5h4M555 491.5h4M559 492.5h4M563 493.5h2M565 492.5h2M567 491.5h2M569 490.5h1M570 489.5h2M572 488.5h1M573 487.5h1M574 486.5h1M575 485.5h2M577 484.5h1M578 483.5h1M579 482.5h1M580 481.5h5M585 482.5h14M599 481.5h4M603 480.5h2M605 479.5h2M607 478.5h2M609 477.5h1M610 476.5h2M612 475.5h1M613 474.5h2M615 473.5h2M617 472.5h1M618 471.5h2M620 470.5h1M621 469.5h1M622 468.5h1M623 467.5h1M624 466.5h1M625 465.5h1M626 464.5h1M627 463.5h1M628 462.5h1M629.5 460v2M630.5 458v2M631.5 456v2M632 455.5h1M633.5 453v2M634.5 451v2M635.5 449v2M636 448.5h1M637 447.5h1M638 446.5h1M639 445.5h1M640.5 443v2M641 442.5h1M642 441.5h1M643 440.5h1M644 439.5h5M649 438.5h5M654 437.5h3M657 436.5h2M659 435.5h6M665 436.5h8M673 435.5h8M681 436.5h4M685 437.5h1M686 438.5h1M687 439.5h1M688.5 440v2M689 442.5h1M690 443.5h1M691 444.5h1M692 445.5h1M693 446.5h2M695 447.5h1M696 448.5h1M697 449.5h2M699 450.5h1M700 451.5h5M705 452.5h8M713 451.5h5M718 450.5h2M720 449.5h2M722 448.5h2M724 447.5h1M725 446.5h1M726 445.5h1M727 444.5h2M729 443.5h1M730 442.5h1M731 441.5h1M732 440.5h1M733 439.5h1M734 438.5h1M735 437.5h1M736.5 435v2M737 434.5h1M738 433.5h1M739 432.5h1M740 431.5h1M741.5 429v2M742.5 427v2M743.5 425v2M744 424.5h1M745.5 422v2M746.5 420v2M747.5 418v2M748.5 416v2M749.5 414v2M750.5 412v2M751.5 410v2M752.5 407v3M753.5 405v2M754.5 403v2M755.5 401v2M756.5 398v3M757.5 396v2M758.5 393v3M759.5 390v3M760.5 388v2M761.5 385v3M762.5 382v3M763.5 380v2M764.5 377v3M765.5 375v2M766.5 372v3M767.5 369v3M768.5 367v2M769.5 364v3M770.5 361v3M771.5 359v2M772.5 356v3M773.5 354v2M774.5 352v2M775.5 350v2M776.5 348v2M777.5 346v2M778.5 344v2M779.5 342v2M780.5 339v3M781.5 337v2M782.5 335v2M783.5 333v2M784.5 331v2M785.5 329v2M786.5 327v2M787.5 325v2M788.5 323v2M789.5 321v2M790.5 319v2M791.5 317v2M792.5 315v2M793.5 313v2M794.5 311v2M795.5 309v2M796.5 307v2M797.5 305v2M798.5 302v3M799.5 300v2M800.5 297v3M801.5 295v2M802.5 292v3M803.5 290v2M804.5 287v3M805.5 285v2M806.5 283v2M807.5 281v2M808.5 278v3M809.5 276v2M810.5 274v2M811.5 272v2M812.5 270v2M813.5 268v2M814.5 266v2M815.5 264v2M816 263.5h1M817.5 261v2M818.5 259v2M819.5 257v2M820 256.5h1M821.5 254v2M822 253.5h1M823 252.5h1M824.5 250v2M825 249.5h1M826 248.5h1M827.5 246v2M828 245.5h1M829.5 243v2M830 242.5h1M831 241.5h1M832.5 239v2M833 238.5h1M834 237.5h1M835.5 235v2M836 234.5h1M837 233.5h1M838 232.5h1M839 231.5h1M840.5 229v2M841 228.5h1M842 227.5h1M843 226.5h1M844 225.5h5M849 226.5h8M857 227.5h8M865 228.5h16M881 229.5h4M885 230.5h1M886 231.5h1M887 232.5h1M888 233.5h1M889 234.5h1M890 235.5h1M891 236.5h1M892 237.5h1M893 238.5h1M894 239.5h1M895 240.5h2M897 241.5h1M898 242.5h1M899 243.5h1M900 244.5h3M903 245.5h4M907 246.5h6M913 247.5h6M919 246.5h4M923 245.5h2M925 244.5h2M927 243.5h2M929 242.5h1M930 241.5h2M932 240.5h1M933 239.5h1M934 238.5h1M935 237.5h1M936 236.5h1M937 235.5h1M938 234.5h1M939 233.5h1M940 232.5h1M941 231.5h1M942 230.5h1M943 229.5h2M945 228.5h1M946 227.5h1M947 226.5h1M948 225.5h2M950 224.5h2M952 223.5h2M954 222.5h2M956 221.5h1M957.5 222v2M958 224.5h1M959 225.5h1M960.5 226v2M961 228.5h1M962 229.5h1M963.5 230v2M964 232.5h1M965.5 233v2M966.5 235v2M967.5 237v2M968.5 239v2M969.5 241v2M970.5 243v2M971.5 245v2M972.5 247v2M973.5 249v2M974.5 251v2M975.5 253v2M976.5 255v2M977.5 257v2M978.5 259v2M979.5 261v2M980.5 263v2M981.5 265v3M982.5 268v2M983.5 270v3M984.5 273v3M985.5 276v3M986.5 279v2M987.5 281v3M988.5 284v3M989.5 287v2M990.5 289v2M991.5 291v2M992.5 293v3M993.5 296v2M994.5 298v2M995.5 300v2M996.5 302v2M997.5 304v2M998.5 306v2M999.5 308v2M1000.5 310v2M1001.5 312v2M1002.5 314v2M1003.5 316v2M1004 318.5h1M1005.5 319v2M1006 321.5h1M1007.5 322v2M1008 324.5h1M1009.5 325v2M1010 327.5h1M1011.5 328v2M1012 330.5h2M1014 331.5h2M1016 332.5h2M1018 333.5h2M1020 334.5h2M1022 335.5h2M1024 336.5h2M1026 337.5h2M1028 338.5h1M1029 339.5h2M1031 340.5h1M1032 341.5h1M1033 342.5h2M1035 343.5h1M1036 344.5h1M1037 345.5h1M1038 346.5h1M1039 347.5h1M1040 348.5h1M1041 349.5h1M1042 350.5h1M1043 351.5h1M1044 352.5h1M1045 353.5h1M1046 354.5h1M1047 355.5h1M1048 356.5h1M1049 357.5h1M1050 358.5h1M1051 359.5h1M1052 360.5h1M1053.5 361v2M1054 363.5h1M1055 364.5h1M1056.5 365v2M1057 367.5h1M1058 368.5h1M1059.5 369v2M1060 371.5h1M1061 372.5h1M1062 373.5h1M1063 374.5h1M1064.5 375v2M1065 377.5h1M1066 378.5h1M1067 379.5h1M1068 380.5h21M1089 379.5h4M1093 378.5h1M1094.5 376v2M1095 375.5h1M1096 374.5h1M1097 373.5h1M1098.5 371v2M1099 370.5h1M1100 369.5h1M1101.5 367v2M1102.5 365v2M1103.5 363v2M1104.5 361v2M1105.5 359v2M1106.5 357v2M1107.5 355v2M1108 354.5h1M1109.5 352v2M1110 351.5h1M1111.5 349v2M1112 348.5h1M1113.5 346v2M1114 345.5h1M1115.5 343v2M1116 342.5h3M1119 341.5h4M1123 340.5h12M1135 339.5h4M1139 338.5h4M1143 337.5h4M1147 336.5h4M1151 335.5h4M1155 334.5h19M1174 335.5h3M1177 336.5h2M1179 337.5h3M1182 338.5h3M1185 339.5h2M1187 340.5h4M1191 341.5h4M1195 342.5h14M1209 341.5h4M1213 340.5h1M1214 339.5h1M1215 338.5h1M1216 337.5h1M1217 336.5h1M1218 335.5h1M1219 334.5h1M1220 333.5h1M1221 332.5h1M1222.5 330v2M1223 329.5h1M1224 328.5h1M1225 327.5h1M1226.5 325v2M1227 324.5h1M1228 323.5h1M1229.5 321v2M1230 320.5h1M1231.5 318v2M1232 317.5h1M1233.5 315v2M1234 314.5h1M1235.5 312v2M1236 311.5h1M1237.5 309v2M1238 308.5h1M1239.5 306v2M1240 305.5h1M1241.5 303v2M1242 302.5h1M1243.5 300v2M1244 299.5h1M1245.5 297v2M1246.5 295v2M1247 294.5h1M1248.5 292v2M1249 291.5h1M1250.5 289v2M1251.5 287v2M1252 286.5h2M1254 287.5h3M1257 288.5h2M1259 289.5h6M1265 288.5h5M1270 287.5h3M1273 286.5h2M1275 285.5h3M1278 284.5h3M1281 283.5h2M1283 282.5h3M1286 281.5h3M1289 280.5h2M1291 279.5h6M1297 278.5h6M1303 277.5h4M1307 276.5h3M1310 275.5h3M1313 274.5h2M1315 273.5h4M1319 272.5h4M1323 271.5h4M1327 272.5h4M1331 273.5h3M1334 274.5h3M1337 275.5h2M1339 276.5h4M1343 277.5h4M1347 278.5h4M1351 279.5h4M1355 280.5h4M1359 281.5h4M1363 282.5h22M1385 281.5h8M1393 280.5h5M1398 279.5h3M1401 278.5h2M1403 277.5h3M1406 276.5h3M1409 275.5h2M1411 274.5h6M1417 275.5h24M1441 274.5h8M1449 273.5h5M1454 272.5h3M1457 271.5h2M1459 270.5h2M1461 269.5h2M1463 268.5h1M1464 267.5h1M1465 266.5h2M1467 265.5h1M1468 264.5h1M1469 263.5h1M1470 262.5h1M1471 261.5h1M1472 260.5h1M1473 259.5h1M1474 258.5h1M1475 257.5h1M1476 256.5h1M1477 255.5h1M1478.5 253v2M1479 252.5h1M1480 251.5h1M1481 250.5h1M1482.5 248v2M1483 247.5h1M1484 246.5h1M1485.5 244v2M1486.5 242v2M1487.5 240v2M1488.5 238v2M1489.5 236v2M1490.5 234v2M1491.5 232v2M1492.5 230v2M1493.5 228v2M1494.5 226v2M1495.5 224v2M1496.5 222v2M1497.5 220v2M1498.5 218v2M1499.5 216v2M1500 215.5h1" fill="none" stroke="#2fa968" stroke-width="1"/>
<text x="1542" y="121.3" font-size="19.5px" fill="#00ff00" font-weight="300" shape-rendering="auto" textLength="107">多空转折点</text>
<rect x="0" y="53" width="1686" height="1" fill="#ff0000"/>
<rect x="0" y="68" width="1686" height="1" fill="#ff4500"/>
<rect x="0" y="85" width="1686" height="1" fill="#c0c0c0"/>
<rect x="0" y="95" width="1686" height="1" fill="#32cd32"/>
<rect x="0" y="111" width="1686" height="1" fill="#0000ff"/>
<rect x="0" y="127" width="1686" height="1" fill="#0000ff"/>
<g fill="#000">
<rect x="4" y="429" width="1" height="72"/>
<rect x="2" y="430" width="5" height="52"/>
<rect x="12" y="450" width="1" height="41"/>
<rect x="10" y="473" width="5" height="8"/>
<rect x="11" y="474" width="3" height="6" fill="#fff"/>
<rect x="20" y="439" width="1" height="39"/>
<rect x="18" y="462" width="5" height="12"/>
<rect x="19" y="463" width="3" height="10" fill="#fff"/>
<rect x="28" y="453" width="1" height="30"/>
<rect x="26" y="462" width="5" height="1"/>
<rect x="36" y="456" width="1" height="2"/>
<rect x="34" y="457" width="5" height="1"/>
<rect x="44" y="424" width="1" height="36"/>
<rect x="42" y="437" width="5" height="21"/>
<rect x="43" y="438" width="3" height="19" fill="#fff"/>
<rect x="52" y="401" width="1" height="43"/>
<rect x="50" y="432" width="5" height="6"/>
<rect x="51" y="433" width="3" height="4" fill="#fff"/>
<rect x="60" y="413" width="1" height="37"/>
<rect x="58" y="419" width="5" height="14"/>
<rect x="59" y="420" width="3" height="12" fill="#fff"/>
<rect x="68" y="356" width="1" height="79"/>
<rect x="66" y="378" width="5" height="42"/>
<rect x="67" y="379" width="3" height="40" fill="#fff"/>
<rect x="76" y="378" width="1" height="36"/>
<rect x="74" y="378" width="5" height="36"/>
<rect x="84" y="422" width="1" height="6"/>
<rect x="82" y="425" width="5" height="1"/>
<rect x="92" y="417" width="1" height="27"/>
<rect x="90" y="424" width="5" height="5"/>
<rect x="100" y="414" width="1" height="24"/>
<rect x="98" y="428" width="5" height="1"/>
<rect x="108" y="426" width="1" height="48"/>
<rect x="106" y="428" width="5" height="45"/>
<rect x="116" y="438" width="1" height="56"/>
<rect x="114" y="454" width="5" height="18"/>
<rect x="115" y="455" width="3" height="16" fill="#fff"/>
<rect x="124" y="420" width="1" height="42"/>
<rect x="122" y="441" width="5" height="14"/>
<rect x="123" y="442" width="3" height="12" fill="#fff"/>
<rect x="132" y="438" width="1" height="7"/>
<rect x="130" y="438" width="5" height="6"/>
<rect x="131" y="439" width="3" height="4" fill="#fff"/>
<rect x="140" y="431" width="1" height="57"/>
<rect x="138" y="438" width="5" height="33"/>
<rect x="148" y="453" width="1" height="47"/>
<rect x="146" y="469" width="5" height="31"/>
<rect x="156" y="466" width="1" height="49"/>
<rect x="154" y="499" width="5" height="6"/>
<rect x="164" y="502" width="1" height="29"/>
<rect x="162" y="504" width="5" height="1"/>
<rect x="172" y="503" width="1" height="47"/>
<rect x="170" y="505" width="5" height="44"/>
<rect x="180" y="555" width="1" height="8"/>
<rect x="178" y="558" width="5" height="3"/>
<rect x="188" y="508" width="1" height="52"/>
<rect x="186" y="518" width="5" height="42"/>
<rect x="187" y="519" width="3" height="40" fill="#fff"/>
<rect x="196" y="482" width="1" height="42"/>
<rect x="194" y="497" width="5" height="22"/>
<rect x="195" y="498" width="3" height="20" fill="#fff"/>
<rect x="204" y="486" width="1" height="24"/>
<rect x="202" y="497" width="5" height="8"/>
<rect x="212" y="499" width="1" height="24"/>
<rect x="210" y="505" width="5" height="5"/>
<rect x="220" y="505" width="1" height="28"/>
<rect x="218" y="509" width="5" height="19"/>
<rect x="228" y="522" width="1" height="3"/>
<rect x="226" y="523" width="5" height="1"/>
<rect x="236" y="516" width="1" height="16"/>
<rect x="234" y="517" width="5" height="7"/>
<rect x="235" y="518" width="3" height="5" fill="#fff"/>
<rect x="244" y="458" width="1" height="61"/>
<rect x="242" y="470" width="5" height="48"/>
<rect x="243" y="471" width="3" height="46" fill="#fff"/>
<rect x="252" y="461" width="1" height="56"/>
<rect x="250" y="469" width="5" height="26"/>
<rect x="260" y="465" width="1" height="41"/>
<rect x="258" y="474" width="5" height="22"/>
<rect x="259" y="475" width="3" height="20" fill="#fff"/>
<rect x="268" y="447" width="1" height="38"/>
<rect x="266" y="472" width="5" height="3"/>
<rect x="267" y="473" width="3" height="1" fill="#fff"/>
<rect x="276" y="463" width="1" height="3"/>
<rect x="274" y="464" width="5" height="1"/>
<rect x="284" y="406" width="1" height="60"/>
<rect x="282" y="413" width="5" height="52"/>
<rect x="283" y="414" width="3" height="50" fill="#fff"/>
<rect x="292" y="378" width="1" height="38"/>
<rect x="290" y="379" width="5" height="35"/>
<rect x="291" y="380" width="3" height="33" fill="#fff"/>
<rect x="300" y="366" width="1" height="23"/>
<rect x="298" y="379" width="5" height="3"/>
<rect x="308" y="359" width="1" height="50"/>
<rect x="306" y="369" width="5" height="13"/>
<rect x="307" y="370" width="3" height="11" fill="#fff"/>
<rect x="316" y="324" width="1" height="55"/>
<rect x="314" y="347" width="5" height="24"/>
<rect x="315" y="348" width="3" height="22" fill="#fff"/>
<rect x="324" y="324" width="1" height="14"/>
<rect x="322" y="329" width="5" height="8"/>
<rect x="323" y="330" width="3" height="6" fill="#fff"/>
<rect x="332" y="320" width="1" height="42"/>
<rect x="330" y="322" width="5" height="7"/>
<rect x="331" y="323" width="3" height="5" fill="#fff"/>
<rect x="340" y="315" width="1" height="51"/>
<rect x="338" y="322" width="5" height="11"/>
<rect x="348" y="294" width="1" height="40"/>
<rect x="346" y="331" width="5" height="1"/>
<rect x="356" y="316" width="1" height="67"/>
<rect x="354" y="331" width="5" height="51"/>
<rect x="364" y="352" width="1" height="67"/>
<rect x="362" y="381" width="5" height="31"/>
<rect x="372" y="402" width="1" height="8"/>
<rect x="370" y="405" width="5" height="1"/>
<rect x="380" y="357" width="1" height="69"/>
<rect x="378" y="358" width="5" height="48"/>
<rect x="379" y="359" width="3" height="46" fill="#fff"/>
<rect x="388" y="339" width="1" height="50"/>
<rect x="386" y="357" width="5" height="22"/>
<rect x="396" y="376" width="1" height="29"/>
<rect x="394" y="378" width="5" height="13"/>
<rect x="404" y="385" width="1" height="60"/>
<rect x="402" y="390" width="5" height="47"/>
<rect x="412" y="424" width="1" height="42"/>
<rect x="410" y="435" width="5" height="27"/>
<rect x="420" y="462" width="1" height="6"/>
<rect x="418" y="464" width="5" height="1"/>
<rect x="428" y="405" width="1" height="64"/>
<rect x="426" y="408" width="5" height="57"/>
<rect x="427" y="409" width="3" height="55" fill="#fff"/>
<rect x="436" y="396" width="1" height="38"/>
<rect x="434" y="399" width="5" height="10"/>
<rect x="435" y="400" width="3" height="8" fill="#fff"/>
<rect x="444" y="392" width="1" height="49"/>
<rect x="442" y="399" width="5" height="42"/>
<rect x="452" y="421" width="1" height="28"/>
<rect x="450" y="436" width="5" height="5"/>
<rect x="451" y="437" width="3" height="3" fill="#fff"/>
<rect x="460" y="431" width="1" height="46"/>
<rect x="458" y="436" width="5" height="31"/>
<rect x="468" y="464" width="1" height="6"/>
<rect x="466" y="467" width="5" height="1"/>
<rect x="476" y="448" width="1" height="52"/>
<rect x="474" y="466" width="5" height="12"/>
<rect x="484" y="444" width="1" height="54"/>
<rect x="482" y="449" width="5" height="29"/>
<rect x="483" y="450" width="3" height="27" fill="#fff"/>
<rect x="492" y="412" width="1" height="48"/>
<rect x="490" y="421" width="5" height="29"/>
<rect x="491" y="422" width="3" height="27" fill="#fff"/>
<rect x="500" y="397" width="1" height="28"/>
<rect x="498" y="421" width="5" height="1"/>
<rect x="508" y="413" width="1" height="19"/>
<rect x="506" y="417" width="5" height="4"/>
<rect x="507" y="418" width="3" height="2" fill="#fff"/>
<rect x="516" y="416" width="1" height="4"/>
<rect x="514" y="417" width="5" height="2"/>
<rect x="524" y="401" width="1" height="18"/>
<rect x="522" y="410" width="5" height="8"/>
<rect x="523" y="411" width="3" height="6" fill="#fff"/>
<rect x="532" y="375" width="1" height="48"/>
<rect x="530" y="393" width="5" height="18"/>
<rect x="531" y="394" width="3" height="16" fill="#fff"/>
<rect x="540" y="363" width="1" height="43"/>
<rect x="538" y="367" width="5" height="27"/>
<rect x="539" y="368" width="3" height="25" fill="#fff"/>
<rect x="548" y="346" width="1" height="27"/>
<rect x="546" y="367" width="5" height="3"/>
<rect x="556" y="348" width="1" height="37"/>
<rect x="554" y="362" width="5" height="8"/>
<rect x="555" y="363" width="3" height="6" fill="#fff"/>
<rect x="564" y="358" width="1" height="5"/>
<rect x="562" y="358" width="5" height="5"/>
<rect x="572" y="346" width="1" height="45"/>
<rect x="570" y="362" width="5" height="28"/>
<rect x="580" y="381" width="1" height="35"/>
<rect x="578" y="383" width="5" height="7"/>
<rect x="579" y="384" width="3" height="5" fill="#fff"/>
<rect x="588" y="353" width="1" height="33"/>
<rect x="586" y="375" width="5" height="9"/>
<rect x="587" y="376" width="3" height="7" fill="#fff"/>
<rect x="596" y="363" width="1" height="39"/>
<rect x="594" y="375" width="5" height="13"/>
<rect x="604" y="381" width="1" height="24"/>
<rect x="602" y="384" width="5" height="3"/>
<rect x="603" y="385" width="3" height="1" fill="#fff"/>
<rect x="612" y="382" width="1" height="3"/>
<rect x="610" y="382" width="5" height="2"/>
<rect x="620" y="348" width="1" height="54"/>
<rect x="618" y="349" width="5" height="34"/>
<rect x="619" y="350" width="3" height="32" fill="#fff"/>
<rect x="628" y="310" width="1" height="44"/>
<rect x="626" y="323" width="5" height="26"/>
<rect x="627" y="324" width="3" height="24" fill="#fff"/>
<rect x="636" y="319" width="1" height="37"/>
<rect x="634" y="323" width="5" height="3"/>
<rect x="644" y="313" width="1" height="33"/>
<rect x="642" y="324" width="5" height="1"/>
<rect x="652" y="297" width="1" height="33"/>
<rect x="650" y="302" width="5" height="23"/>
<rect x="651" y="303" width="3" height="21" fill="#fff"/>
<rect x="660" y="299" width="1" height="5"/>
<rect x="658" y="302" width="5" height="1"/>
<rect x="668" y="261" width="1" height="41"/>
<rect x="666" y="266" width="5" height="36"/>
<rect x="667" y="267" width="3" height="34" fill="#fff"/>
<rect x="676" y="243" width="1" height="43"/>
<rect x="674" y="253" width="5" height="14"/>
<rect x="675" y="254" width="3" height="12" fill="#fff"/>
<rect x="684" y="220" width="1" height="39"/>
<rect x="682" y="233" width="5" height="21"/>
<rect x="683" y="234" width="3" height="19" fill="#fff"/>
<rect x="692" y="182" width="1" height="65"/>
<rect x="690" y="183" width="5" height="51"/>
<rect x="691" y="184" width="3" height="49" fill="#fff"/>
<rect x="700" y="162" width="1" height="35"/>
<rect x="698" y="184" width="5" height="4"/>
<rect x="708" y="187" width="1" height="7"/>
<rect x="706" y="189" width="5" height="1"/>
<rect x="716" y="184" width="1" height="41"/>
<rect x="714" y="189" width="5" height="9"/>
<rect x="724" y="186" width="1" height="47"/>
<rect x="722" y="195" width="5" height="3"/>
<rect x="723" y="196" width="3" height="1" fill="#fff"/>
<rect x="732" y="166" width="1" height="39"/>
<rect x="730" y="180" width="5" height="16"/>
<rect x="731" y="181" width="3" height="14" fill="#fff"/>
<rect x="740" y="158" width="1" height="25"/>
<rect x="738" y="175" width="5" height="6"/>
<rect x="739" y="176" width="3" height="4" fill="#fff"/>
<rect x="748" y="171" width="1" height="52"/>
<rect x="746" y="175" width="5" height="33"/>
<rect x="756" y="206" width="1" height="4"/>
<rect x="754" y="207" width="5" height="3"/>
<rect x="755" y="208" width="3" height="1" fill="#fff"/>
<rect x="764" y="188" width="1" height="31"/>
<rect x="762" y="198" width="5" height="9"/>
<rect x="763" y="199" width="3" height="7" fill="#fff"/>
<rect x="772" y="177" width="1" height="34"/>
<rect x="770" y="198" width="5" height="10"/>
<rect x="780" y="201" width="1" height="24"/>
<rect x="778" y="207" width="5" height="3"/>
<rect x="788" y="180" width="1" height="31"/>
<rect x="786" y="200" width="5" height="9"/>
<rect x="787" y="201" width="3" height="7" fill="#fff"/>
<rect x="796" y="173" width="1" height="36"/>
<rect x="794" y="192" width="5" height="9"/>
<rect x="795" y="193" width="3" height="7" fill="#fff"/>
<rect x="804" y="186" width="1" height="6"/>
<rect x="802" y="187" width="5" height="4"/>
<rect x="803" y="188" width="3" height="2" fill="#fff"/>
<rect x="812" y="181" width="1" height="18"/>
<rect x="810" y="188" width="5" height="1"/>
<rect x="820" y="132" width="1" height="56"/>
<rect x="818" y="133" width="5" height="55"/>
<rect x="819" y="134" width="3" height="53" fill="#fff"/>
<rect x="828" y="127" width="1" height="65"/>
<rect x="826" y="133" width="5" height="53"/>
<rect x="836" y="143" width="1" height="60"/>
<rect x="834" y="147" width="5" height="39"/>
<rect x="835" y="148" width="3" height="37" fill="#fff"/>
<rect x="844" y="132" width="1" height="73"/>
<rect x="842" y="145" width="5" height="47"/>
<rect x="852" y="189" width="1" height="4"/>
<rect x="850" y="189" width="5" height="4"/>
<rect x="860" y="171" width="1" height="36"/>
<rect x="858" y="192" width="5" height="9"/>
<rect x="868" y="163" width="1" height="42"/>
<rect x="866" y="172" width="5" height="28"/>
<rect x="867" y="173" width="3" height="26" fill="#fff"/>
<rect x="876" y="146" width="1" height="37"/>
<rect x="874" y="146" width="5" height="26"/>
<rect x="875" y="147" width="3" height="24" fill="#fff"/>
<rect x="884" y="122" width="1" height="46"/>
<rect x="882" y="145" width="5" height="8"/>
<rect x="892" y="95" width="1" height="63"/>
<rect x="890" y="100" width="5" height="54"/>
<rect x="891" y="101" width="3" height="52" fill="#fff"/>
<rect x="900" y="95" width="1" height="6"/>
<rect x="898" y="96" width="5" height="4"/>
<rect x="899" y="97" width="3" height="2" fill="#fff"/>
<rect x="908" y="81" width="1" height="35"/>
<rect x="906" y="93" width="5" height="4"/>
<rect x="907" y="94" width="3" height="2" fill="#fff"/>
<rect x="916" y="49" width="1" height="47"/>
<rect x="914" y="79" width="5" height="14"/>
<rect x="915" y="80" width="3" height="12" fill="#fff"/>
<rect x="924" y="79" width="1" height="44"/>
<rect x="922" y="79" width="5" height="20"/>
<rect x="932" y="98" width="1" height="40"/>
<rect x="930" y="99" width="5" height="31"/>
<rect x="940" y="109" width="1" height="53"/>
<rect x="938" y="120" width="5" height="10"/>
<rect x="939" y="121" width="3" height="8" fill="#fff"/>
<rect x="948" y="132" width="1" height="6"/>
<rect x="946" y="133" width="5" height="3"/>
<rect x="956" y="131" width="1" height="44"/>
<rect x="954" y="135" width="5" height="33"/>
<rect x="964" y="165" width="1" height="80"/>
<rect x="962" y="167" width="5" height="72"/>
<rect x="972" y="217" width="1" height="51"/>
<rect x="970" y="226" width="5" height="13"/>
<rect x="971" y="227" width="3" height="11" fill="#fff"/>
<rect x="980" y="213" width="1" height="96"/>
<rect x="978" y="227" width="5" height="70"/>
<rect x="988" y="274" width="1" height="39"/>
<rect x="986" y="295" width="5" height="8"/>
<rect x="996" y="294" width="1" height="6"/>
<rect x="994" y="297" width="5" height="1"/>
<rect x="1004" y="255" width="1" height="48"/>
<rect x="1002" y="282" width="5" height="15"/>
<rect x="1003" y="283" width="3" height="13" fill="#fff"/>
<rect x="1012" y="253" width="1" height="41"/>
<rect x="1010" y="268" width="5" height="14"/>
<rect x="1011" y="269" width="3" height="12" fill="#fff"/>
<rect x="1020" y="223" width="1" height="49"/>
<rect x="1018" y="240" width="5" height="29"/>
<rect x="1019" y="241" width="3" height="27" fill="#fff"/>
<rect x="1028" y="226" width="1" height="50"/>
<rect x="1026" y="235" width="5" height="6"/>
<rect x="1027" y="236" width="3" height="4" fill="#fff"/>
<rect x="1036" y="225" width="1" height="32"/>
<rect x="1034" y="234" width="5" height="19"/>
<rect x="1044" y="248" width="1" height="4"/>
<rect x="1042" y="250" width="5" height="1"/>
<rect x="1052" y="238" width="1" height="70"/>
<rect x="1050" y="250" width="5" height="43"/>
<rect x="1060" y="274" width="1" height="58"/>
<rect x="1058" y="292" width="5" height="29"/>
<rect x="1068" y="307" width="1" height="38"/>
<rect x="1066" y="321" width="5" height="10"/>
<rect x="1076" y="306" width="1" height="33"/>
<rect x="1074" y="315" width="5" height="16"/>
<rect x="1075" y="316" width="3" height="14" fill="#fff"/>
<rect x="1084" y="297" width="1" height="44"/>
<rect x="1082" y="315" width="5" height="10"/>
<rect x="1092" y="311" width="1" height="5"/>
<rect x="1090" y="311" width="5" height="4"/>
<rect x="1091" y="312" width="3" height="2" fill="#fff"/>
<rect x="1100" y="251" width="1" height="66"/>
<rect x="1098" y="272" width="5" height="41"/>
<rect x="1099" y="273" width="3" height="39" fill="#fff"/>
<rect x="1108" y="261" width="1" height="30"/>
<rect x="1106" y="272" width="5" height="4"/>
<rect x="1116" y="246" width="1" height="51"/>
<rect x="1114" y="256" width="5" height="20"/>
<rect x="1115" y="257" width="3" height="18" fill="#fff"/>
<rect x="1124" y="233" width="1" height="59"/>
<rect x="1122" y="256" width="5" height="12"/>
<rect x="1132" y="242" width="1" height="44"/>
<rect x="1130" y="250" width="5" height="18"/>
<rect x="1131" y="251" width="3" height="16" fill="#fff"/>
<rect x="1140" y="250" width="1" height="4"/>
<rect x="1138" y="250" width="5" height="2"/>
<rect x="1148" y="228" width="1" height="35"/>
<rect x="1146" y="228" width="5" height="24"/>
<rect x="1147" y="229" width="3" height="22" fill="#fff"/>
<rect x="1156" y="223" width="1" height="52"/>
<rect x="1154" y="228" width="5" height="41"/>
<rect x="1164" y="251" width="1" height="31"/>
<rect x="1162" y="256" width="5" height="13"/>
<rect x="1163" y="257" width="3" height="11" fill="#fff"/>
<rect x="1172" y="236" width="1" height="30"/>
<rect x="1170" y="248" width="5" height="9"/>
<rect x="1171" y="249" width="3" height="7" fill="#fff"/>
<rect x="1180" y="211" width="1" height="44"/>
<rect x="1178" y="212" width="5" height="37"/>
<rect x="1179" y="213" width="3" height="35" fill="#fff"/>
<rect x="1188" y="212" width="1" height="4"/>
<rect x="1186" y="213" width="5" height="2"/>
<rect x="1196" y="195" width="1" height="29"/>
<rect x="1194" y="202" width="5" height="14"/>
<rect x="1195" y="203" width="3" height="12" fill="#fff"/>
<rect x="1204" y="201" width="1" height="54"/>
<rect x="1202" y="202" width="5" height="48"/>
<rect x="1212" y="202" width="1" height="74"/>
<rect x="1210" y="221" width="5" height="29"/>
<rect x="1211" y="222" width="3" height="27" fill="#fff"/>
<rect x="1220" y="215" width="1" height="51"/>
<rect x="1218" y="221" width="5" height="41"/>
<rect x="1228" y="239" width="1" height="38"/>
<rect x="1226" y="251" width="5" height="11"/>
<rect x="1227" y="252" width="3" height="9" fill="#fff"/>
<rect x="1236" y="252" width="1" height="5"/>
<rect x="1234" y="253" width="5" height="3"/>
<rect x="1235" y="254" width="3" height="1" fill="#fff"/>
<rect x="1244" y="216" width="1" height="39"/>
<rect x="1242" y="245" width="5" height="9"/>
<rect x="1243" y="246" width="3" height="7" fill="#fff"/>
<rect x="1252" y="233" width="1" height="26"/>
<rect x="1250" y="242" width="5" height="4"/>
<rect x="1251" y="243" width="3" height="2" fill="#fff"/>
<rect x="1260" y="161" width="1" height="82"/>
<rect x="1258" y="178" width="5" height="65"/>
<rect x="1259" y="179" width="3" height="63" fill="#fff"/>
<rect x="1268" y="171" width="1" height="30"/>
<rect x="1266" y="178" width="5" height="20"/>
<rect x="1276" y="181" width="1" height="39"/>
<rect x="1274" y="197" width="5" height="17"/>
<rect x="1284" y="206" width="1" height="5"/>
<rect x="1282" y="206" width="5" height="5"/>
<rect x="1283" y="207" width="3" height="3" fill="#fff"/>
<rect x="1292" y="198" width="1" height="31"/>
<rect x="1290" y="207" width="5" height="14"/>
<rect x="1300" y="196" width="1" height="30"/>
<rect x="1298" y="214" width="5" height="7"/>
<rect x="1299" y="215" width="3" height="5" fill="#fff"/>
<rect x="1308" y="202" width="1" height="55"/>
<rect x="1306" y="214" width="5" height="16"/>
<rect x="1316" y="216" width="1" height="54"/>
<rect x="1314" y="230" width="5" height="22"/>
<rect x="1324" y="231" width="1" height="32"/>
<rect x="1322" y="242" width="5" height="10"/>
<rect x="1323" y="243" width="3" height="8" fill="#fff"/>
<rect x="1332" y="249" width="1" height="7"/>
<rect x="1330" y="250" width="5" height="4"/>
<rect x="1340" y="246" width="1" height="33"/>
<rect x="1338" y="254" width="5" height="1"/>
<rect x="1348" y="178" width="1" height="78"/>
<rect x="1346" y="182" width="5" height="73"/>
<rect x="1347" y="183" width="3" height="71" fill="#fff"/>
<rect x="1356" y="174" width="1" height="84"/>
<rect x="1354" y="182" width="5" height="57"/>
<rect x="1364" y="169" width="1" height="80"/>
<rect x="1362" y="175" width="5" height="65"/>
<rect x="1363" y="176" width="3" height="63" fill="#fff"/>
<rect x="1372" y="161" width="1" height="24"/>
<rect x="1370" y="167" width="5" height="9"/>
<rect x="1371" y="168" width="3" height="7" fill="#fff"/>
<rect x="1380" y="160" width="1" height="8"/>
<rect x="1378" y="160" width="5" height="8"/>
<rect x="1379" y="161" width="3" height="6" fill="#fff"/>
<rect x="1388" y="150" width="1" height="33"/>
<rect x="1386" y="160" width="5" height="5"/>
<rect x="1396" y="124" width="1" height="45"/>
<rect x="1394" y="131" width="5" height="34"/>
<rect x="1395" y="132" width="3" height="32" fill="#fff"/>
<rect x="1404" y="111" width="1" height="45"/>
<rect x="1402" y="131" width="5" height="14"/>
<rect x="1412" y="144" width="1" height="44"/>
<rect x="1410" y="144" width="5" height="38"/>
<rect x="1420" y="155" width="1" height="31"/>
<rect x="1418" y="161" width="5" height="21"/>
<rect x="1419" y="162" width="3" height="19" fill="#fff"/>
<rect x="1428" y="145" width="1" height="14"/>
<rect x="1426" y="145" width="5" height="14"/>
<rect x="1427" y="146" width="3" height="12" fill="#fff"/>
<rect x="1436" y="137" width="1" height="29"/>
<rect x="1434" y="146" width="5" height="1"/>
<rect x="1444" y="126" width="1" height="25"/>
<rect x="1442" y="132" width="5" height="14"/>
<rect x="1443" y="133" width="3" height="12" fill="#fff"/>
<rect x="1452" y="111" width="1" height="27"/>
<rect x="1450" y="132" width="5" height="3"/>
<rect x="1460" y="124" width="1" height="31"/>
<rect x="1458" y="134" width="5" height="1"/>
<rect x="1468" y="117" width="1" height="18"/>
<rect x="1466" y="124" width="5" height="11"/>
<rect x="1467" y="125" width="3" height="9" fill="#fff"/>
<rect x="1476" y="115" width="1" height="3"/>
<rect x="1474" y="115" width="5" height="3"/>
<rect x="1475" y="116" width="3" height="1" fill="#fff"/>
<rect x="1484" y="79" width="1" height="51"/>
<rect x="1482" y="106" width="5" height="10"/>
<rect x="1483" y="107" width="3" height="8" fill="#fff"/>
<rect x="1492" y="87" width="1" height="33"/>
<rect x="1490" y="97" width="5" height="10"/>
<rect x="1491" y="98" width="3" height="8" fill="#fff"/>
<rect x="1500" y="82" width="1" height="33"/>
<rect x="1498" y="85" width="5" height="9"/>
<rect x="1499" y="86" width="3" height="7" fill="#fff"/>
</g>
<rect x="1681.5" y="51.5" width="4" height="4" fill="#fff" stroke="#ff0000" stroke-width="1"/>
<rect x="1681.5" y="66.5" width="4" height="4" fill="#fff" stroke="#ff4500" stroke-width="1"/>
<rect x="1681.5" y="93.5" width="4" height="4" fill="#fff" stroke="#32cd32" stroke-width="1"/>
<rect x="1681.5" y="125.5" width="4" height="4" fill="#fff" stroke="#0000ff" stroke-width="1"/>
<rect x="0" y="125" width="1" height="5" fill="#0000ff"/>
<rect x="1387" y="93" width="143" height="5" fill="#00ee00"/>
<g stroke="#ff0000" stroke-width="3.1" fill="#ff0000" shape-rendering="auto" stroke-linecap="round">
<line x1="1338" y1="263" x2="1403" y2="126"/>
<line x1="1405.5" y1="124" x2="1418.5" y2="175"/>
<line x1="1420.5" y1="179.5" x2="1514" y2="79.5"/>
</g>
<g fill="#ff0000" shape-rendering="auto">
<polygon points="1405.5,119.5 1407.5,130.5 1397.5,127"/>
<polygon points="1420,182 1413,172.5 1423,169.5"/>
<polygon points="1520,73.5 1516.5,84.5 1509,78.500"/>
</g>
<rect x="845.5" y="39.5" width="61" height="18" fill="#fff" stroke="#ff0000" stroke-width="1"/>
<text x="847.4" y="55" font-size="17.2px" fill="#ff0000" shape-rendering="auto" textLength="58.6" lengthAdjust="spacingAndGlyphs">1.34837</text>
<rect x="907" y="48" width="10" height="1" fill="#ff0000"/>
<rect x="989.5" y="336.5" width="61" height="18" fill="#fff" stroke="#ff0000" stroke-width="1"/>
<text x="991.4" y="352" font-size="17.2px" fill="#ff0000" shape-rendering="auto" textLength="58.6" lengthAdjust="spacingAndGlyphs">1.26724</text>
<rect x="1051" y="345" width="10" height="1" fill="#ff0000"/>
<rect x="1189.5" y="152.5" width="61" height="18" fill="#fff" stroke="#ff0000" stroke-width="1"/>
<text x="1191.4" y="168" font-size="17.2px" fill="#ff0000" shape-rendering="auto" textLength="58.6" lengthAdjust="spacingAndGlyphs">1.31747</text>
<rect x="1251" y="161" width="10" height="1" fill="#ff0000"/>
<rect x="1333.5" y="102.5" width="61" height="18" fill="#fff" stroke="#ff0000" stroke-width="1"/>
<text x="1335.4" y="118" font-size="17.2px" fill="#ff0000" shape-rendering="auto" textLength="58.6" lengthAdjust="spacingAndGlyphs">1.33114</text>
<rect x="1395" y="111" width="10" height="1" fill="#ff0000"/>
<rect x="1213" y="95" width="10" height="1" fill="#ff0000"/>
<rect x="1220.5" y="93.5" width="2" height="4" fill="#fff" stroke="#ff0000"/>
<rect x="1223.5" y="83.5" width="73" height="24" fill="#fff" stroke="#ff0000" stroke-width="1"/>
<text x="1224.6" y="104" font-size="23.3px" fill="#ff0000" shape-rendering="auto" textLength="71.5" lengthAdjust="spacingAndGlyphs">1.33552</text>
</g>
<polygon points="1510,23 1521,23 1515.5,28" fill="#c0c0c0" shape-rendering="auto"/>
<polygon points="0,33 6,33 3,29" fill="#000" shape-rendering="auto"/>
<text x="10.4" y="34" font-size="9.45px" shape-rendering="auto" xml:space="preserve">GBPUSD-,Daily  1.33604 1.33918 1.33027 1.33829</text>
<rect x="1687" y="44" width="3" height="1" fill="#000"/>
<text x="1692.6" y="47.4" font-size="9.1px" shape-rendering="auto">1.34955</text>
<rect x="1687" y="77" width="3" height="1" fill="#000"/>
<text x="1692.6" y="80.4" font-size="9.1px" shape-rendering="auto">1.34055</text>
<rect x="1687" y="110" width="3" height="1" fill="#000"/>
<text x="1692.6" y="113.4" font-size="9.1px" shape-rendering="auto">1.33155</text>
<rect x="1687" y="143" width="3" height="1" fill="#000"/>
<text x="1692.6" y="146.4" font-size="9.1px" shape-rendering="auto">1.32255</text>
<rect x="1687" y="176" width="3" height="1" fill="#000"/>
<text x="1692.6" y="179.4" font-size="9.1px" shape-rendering="auto">1.31330</text>
<rect x="1687" y="209" width="3" height="1" fill="#000"/>
<text x="1692.6" y="212.4" font-size="9.1px" shape-rendering="auto">1.30430</text>
<rect x="1687" y="242" width="3" height="1" fill="#000"/>
<text x="1692.6" y="245.4" font-size="9.1px" shape-rendering="auto">1.29530</text>
<rect x="1687" y="275" width="3" height="1" fill="#000"/>
<text x="1692.6" y="278.4" font-size="9.1px" shape-rendering="auto">1.28630</text>
<rect x="1687" y="308" width="3" height="1" fill="#000"/>
<text x="1692.6" y="311.4" font-size="9.1px" shape-rendering="auto">1.27730</text>
<rect x="1687" y="341" width="3" height="1" fill="#000"/>
<text x="1692.6" y="344.4" font-size="9.1px" shape-rendering="auto">1.26830</text>
<rect x="1687" y="374" width="3" height="1" fill="#000"/>
<text x="1692.6" y="377.4" font-size="9.1px" shape-rendering="auto">1.25930</text>
<rect x="1687" y="407" width="3" height="1" fill="#000"/>
<text x="1692.6" y="410.4" font-size="9.1px" shape-rendering="auto">1.25005</text>
<rect x="1687" y="440" width="3" height="1" fill="#000"/>
<text x="1692.6" y="443.4" font-size="9.1px" shape-rendering="auto">1.24105</text>
<rect x="1687" y="473" width="3" height="1" fill="#000"/>
<text x="1692.6" y="476.4" font-size="9.1px" shape-rendering="auto">1.23205</text>
<rect x="1687" y="506" width="3" height="1" fill="#000"/>
<text x="1692.6" y="509.4" font-size="9.1px" shape-rendering="auto">1.22305</text>
<rect x="1687" y="539" width="3" height="1" fill="#000"/>
<text x="1692.6" y="542.4" font-size="9.1px" shape-rendering="auto">1.21405</text>
<rect x="1687" y="572" width="3" height="1" fill="#000"/>
<text x="1692.6" y="575.4" font-size="9.1px" shape-rendering="auto">1.20505</text>
<rect x="1688" y="47" width="41" height="11" fill="#ff0000"/>
<rect x="1688" y="62" width="41" height="11" fill="#ff4500"/>
<rect x="1688" y="80" width="41" height="9" fill="#000000"/>
<rect x="1688" y="89" width="41" height="11" fill="#32cd32"/>
<rect x="1688" y="105" width="41" height="11" fill="#0000ff"/>
<rect x="1688" y="121" width="41" height="11" fill="#0000ff"/>
<text x="1692.6" y="56.2" font-size="9.1px" fill="#fff" shape-rendering="auto">1.34700</text>
<text x="1692.6" y="71.2" font-size="9.1px" fill="#fff" shape-rendering="auto">1.34290</text>
<text x="1692.6" y="88.2" font-size="9.1px" fill="#fff" shape-rendering="auto">1.33829</text>
<text x="1692.6" y="98.2" font-size="9.1px" fill="#fff" shape-rendering="auto">1.33552</text>
<text x="1692.6" y="114.2" font-size="9.1px" fill="#fff" shape-rendering="auto">1.33114</text>
<text x="1692.6" y="130.2" font-size="9.1px" fill="#fff" shape-rendering="auto">1.32677</text>
<g clip-path="url(#c2)">
<g fill="#c0c0c0"><rect x="4" y="667" width="1" height="15"/><rect x="12" y="673" width="1" height="9"/><rect x="20" y="677" width="1" height="5"/><rect x="28" y="679" width="1" height="3"/><rect x="36" y="681" width="1" height="1"/><rect x="44" y="679" width="1" height="3"/><rect x="52" y="677" width="1" height="5"/><rect x="60" y="674" width="1" height="8"/><rect x="68" y="666" width="1" height="16"/><rect x="76" y="665" width="1" height="17"/><rect x="84" y="666" width="1" height="16"/><rect x="92" y="667" width="1" height="15"/><rect x="100" y="668" width="1" height="14"/><rect x="108" y="675" width="1" height="7"/><rect x="116" y="678" width="1" height="4"/><rect x="124" y="679" width="1" height="3"/><rect x="132" y="679" width="1" height="3"/><rect x="140" y="681" width="1" height="1"/><rect x="148" y="681" width="1" height="9"/><rect x="156" y="681" width="1" height="15"/><rect x="164" y="681" width="1" height="20"/><rect x="172" y="681" width="1" height="30"/><rect x="180" y="681" width="1" height="39"/><rect x="188" y="681" width="1" height="39"/><rect x="196" y="681" width="1" height="36"/><rect x="204" y="681" width="1" height="35"/><rect x="212" y="681" width="1" height="34"/><rect x="220" y="681" width="1" height="35"/><rect x="228" y="681" width="1" height="35"/><rect x="236" y="681" width="1" height="33"/><rect x="244" y="681" width="1" height="26"/><rect x="252" y="681" width="1" height="23"/><rect x="260" y="681" width="1" height="18"/><rect x="268" y="681" width="1" height="13"/><rect x="276" y="681" width="1" height="9"/><rect x="284" y="680" width="1" height="2"/><rect x="292" y="666" width="1" height="16"/><rect x="300" y="657" width="1" height="25"/><rect x="308" y="648" width="1" height="34"/><rect x="316" y="638" width="1" height="44"/><rect x="324" y="628" width="1" height="54"/><rect x="332" y="621" width="1" height="61"/><rect x="340" y="617" width="1" height="65"/><rect x="348" y="614" width="1" height="68"/><rect x="356" y="620" width="1" height="62"/><rect x="364" y="630" width="1" height="52"/><rect x="372" y="636" width="1" height="46"/><rect x="380" y="635" width="1" height="47"/><rect x="388" y="638" width="1" height="44"/><rect x="396" y="643" width="1" height="39"/><rect x="404" y="653" width="1" height="29"/><rect x="412" y="664" width="1" height="18"/><rect x="420" y="674" width="1" height="8"/><rect x="428" y="674" width="1" height="8"/><rect x="436" y="673" width="1" height="9"/><rect x="444" y="678" width="1" height="4"/><rect x="452" y="681" width="1" height="1"/><rect x="460" y="681" width="1" height="6"/><rect x="468" y="681" width="1" height="11"/><rect x="476" y="681" width="1" height="17"/><rect x="484" y="681" width="1" height="17"/><rect x="492" y="681" width="1" height="13"/><rect x="500" y="681" width="1" height="10"/><rect x="508" y="681" width="1" height="7"/><rect x="516" y="681" width="1" height="4"/><rect x="524" y="681" width="1" height="1"/><rect x="532" y="679" width="1" height="3"/><rect x="540" y="672" width="1" height="10"/><rect x="548" y="666" width="1" height="16"/><rect x="556" y="662" width="1" height="20"/><rect x="564" y="658" width="1" height="24"/><rect x="572" y="659" width="1" height="23"/><rect x="580" y="659" width="1" height="23"/><rect x="588" y="659" width="1" height="23"/><rect x="596" y="660" width="1" height="22"/><rect x="604" y="661" width="1" height="21"/><rect x="612" y="662" width="1" height="20"/><rect x="620" y="658" width="1" height="24"/><rect x="628" y="652" width="1" height="30"/><rect x="636" y="648" width="1" height="34"/><rect x="644" y="645" width="1" height="37"/><rect x="652" y="640" width="1" height="42"/><rect x="660" y="637" width="1" height="45"/><rect x="668" y="630" width="1" height="52"/><rect x="676" y="623" width="1" height="59"/><rect x="684" y="616" width="1" height="66"/><rect x="692" y="604" width="1" height="78"/><rect x="700" y="596" width="1" height="86"/><rect x="708" y="591" width="1" height="91"/><rect x="716" y="590" width="1" height="92"/><rect x="724" y="589" width="1" height="93"/><rect x="732" y="588" width="1" height="94"/><rect x="740" y="587" width="1" height="95"/><rect x="748" y="592" width="1" height="90"/><rect x="756" y="597" width="1" height="85"/><rect x="764" y="600" width="1" height="82"/><rect x="772" y="605" width="1" height="77"/><rect x="780" y="610" width="1" height="72"/><rect x="788" y="614" width="1" height="68"/><rect x="796" y="616" width="1" height="66"/><rect x="804" y="618" width="1" height="64"/><rect x="812" y="620" width="1" height="62"/><rect x="820" y="616" width="1" height="66"/><rect x="828" y="620" width="1" height="62"/><rect x="836" y="618" width="1" height="64"/><rect x="844" y="624" width="1" height="58"/><rect x="852" y="629" width="1" height="53"/><rect x="860" y="635" width="1" height="47"/><rect x="868" y="636" width="1" height="46"/><rect x="876" y="634" width="1" height="48"/><rect x="884" y="634" width="1" height="48"/><rect x="892" y="627" width="1" height="55"/><rect x="900" y="622" width="1" height="60"/><rect x="908" y="619" width="1" height="63"/><rect x="916" y="614" width="1" height="68"/><rect x="924" y="615" width="1" height="67"/><rect x="932" y="620" width="1" height="62"/><rect x="940" y="623" width="1" height="59"/><rect x="948" y="629" width="1" height="53"/><rect x="956" y="638" width="1" height="44"/><rect x="964" y="655" width="1" height="27"/><rect x="972" y="667" width="1" height="15"/><rect x="980" y="681" width="1" height="5"/><rect x="988" y="681" width="1" height="20"/><rect x="996" y="681" width="1" height="32"/><rect x="1004" y="681" width="1" height="38"/><rect x="1012" y="681" width="1" height="41"/><rect x="1020" y="681" width="1" height="39"/><rect x="1028" y="681" width="1" height="36"/><rect x="1036" y="681" width="1" height="36"/><rect x="1044" y="681" width="1" height="35"/><rect x="1052" y="681" width="1" height="40"/><rect x="1060" y="681" width="1" height="47"/><rect x="1068" y="681" width="1" height="53"/><rect x="1076" y="681" width="1" height="55"/><rect x="1084" y="681" width="1" height="58"/><rect x="1092" y="681" width="1" height="57"/><rect x="1100" y="681" width="1" height="50"/><rect x="1108" y="681" width="1" height="46"/><rect x="1116" y="681" width="1" height="39"/><rect x="1124" y="681" width="1" height="34"/><rect x="1132" y="681" width="1" height="28"/><rect x="1140" y="681" width="1" height="23"/><rect x="1148" y="681" width="1" height="15"/><rect x="1156" y="681" width="1" height="15"/><rect x="1164" y="681" width="1" height="13"/><rect x="1172" y="681" width="1" height="10"/><rect x="1180" y="681" width="1" height="1"/><rect x="1188" y="679" width="1" height="3"/><rect x="1196" y="673" width="1" height="9"/><rect x="1204" y="675" width="1" height="7"/><rect x="1212" y="673" width="1" height="9"/><rect x="1220" y="676" width="1" height="6"/><rect x="1228" y="679" width="1" height="3"/><rect x="1236" y="680" width="1" height="2"/><rect x="1244" y="680" width="1" height="2"/><rect x="1252" y="679" width="1" height="3"/><rect x="1260" y="671" width="1" height="11"/><rect x="1268" y="667" width="1" height="15"/><rect x="1276" y="666" width="1" height="16"/><rect x="1284" y="664" width="1" height="18"/><rect x="1292" y="665" width="1" height="17"/><rect x="1300" y="665" width="1" height="17"/><rect x="1308" y="667" width="1" height="15"/><rect x="1316" y="672" width="1" height="10"/><rect x="1324" y="675" width="1" height="7"/><rect x="1332" y="679" width="1" height="3"/><rect x="1340" y="681" width="1" height="1"/><rect x="1348" y="675" width="1" height="7"/><rect x="1356" y="676" width="1" height="6"/><rect x="1364" y="670" width="1" height="12"/><rect x="1372" y="663" width="1" height="19"/><rect x="1380" y="657" width="1" height="25"/><rect x="1388" y="654" width="1" height="28"/><rect x="1396" y="647" width="1" height="35"/><rect x="1404" y="643" width="1" height="39"/><rect x="1412" y="646" width="1" height="36"/><rect x="1420" y="646" width="1" height="36"/><rect x="1428" y="644" width="1" height="38"/><rect x="1436" y="643" width="1" height="39"/><rect x="1444" y="641" width="1" height="41"/><rect x="1452" y="640" width="1" height="42"/><rect x="1460" y="640" width="1" height="42"/><rect x="1468" y="639" width="1" height="43"/><rect x="1476" y="637" width="1" height="45"/><rect x="1484" y="635" width="1" height="47"/><rect x="1492" y="633" width="1" height="49"/><rect x="1500" y="629" width="1" height="53"/></g>
<path d="M2 666.5h1M3 665.5h2M8 664.5h3M14 663.5h3M20 662.5h3M26 663.5h1M27 664.5h2M32 665.5h3M38 667.5h3M44 669.5h3M50 670.5h1M51 671.5h2M56 672.5h3M62 673.5h3M68 674.5h3M74 674.5h3M80 674.5h3M86 674.5h3M92 673.5h3M98 672.5h1M99 671.5h2M104 671.5h3M110 671.5h3M116 670.5h3M122 670.5h3M128 670.5h1M129 671.5h2M134 671.5h3M140 672.5h2M142 673.5h1M146 674.5h1M147 675.5h2M152 677.5h2M154 678.5h1M158 680.5h2M160 681.5h1M164 683.5h1M165 684.5h2M170 687.5h2M172 688.5h1M176 690.5h1M177 691.5h1M178 692.5h1M182 694.5h1M183 695.5h2M188 698.5h2M190 699.5h1M194 701.5h2M196 702.5h1M200 704.5h2M202 705.5h1M206 707.5h2M208 708.5h1M212 710.5h2M214 711.5h1M218 713.5h2M220 714.5h1M224 714.5h1M225 715.5h2M230 715.5h3M236 716.5h3M242 716.5h3M248 716.5h1M249 715.5h2M254 714.5h3M260 712.5h2M262 711.5h1M266 710.5h1M267 709.5h2M272 708.5h1M273 707.5h2M278 705.5h3M284 703.5h1M285 702.5h2M290 699.5h2M292 698.5h1M296 695.5h1M297 694.5h1M298 693.5h1M302 689.5h1M303 688.5h1M304 687.5h1M308 683.5h1M309 682.5h1M310 681.5h1M314 677.5h1M315 676.5h1M316 675.5h1M320.5 670v2M321 669.5h1M325 665.5h1M326 664.5h1M327 663.5h1M331 659.5h1M332 658.5h1M333 657.5h1M336 653.5h1M337 652.5h1M338 651.5h1M342 647.5h1M343 646.5h1M344 645.5h1M348 641.5h1M349 640.5h1M350 639.5h1M354 636.5h1M355 635.5h1M356 634.5h1M360 632.5h1M361 631.5h1M362 630.5h1M366 629.5h1M367 628.5h2M372 627.5h3M378 626.5h3M384 626.5h3M390 626.5h3M396 627.5h2M398 628.5h1M402 629.5h1M403 630.5h2M408 632.5h1M409 633.5h1M410 634.5h1M414 636.5h1M415 637.5h1M416 638.5h1M420 641.5h1M421 642.5h1M422 643.5h1M426 646.5h1M427 647.5h1M428 648.5h1M432 650.5h1M433 651.5h1M434 652.5h1M438 654.5h1M439 655.5h2M444 658.5h1M445 659.5h2M450 662.5h1M451 663.5h1M452 664.5h1M456 666.5h1M457 667.5h1M458 668.5h1M462 670.5h1M463 671.5h1M464 672.5h1M468 675.5h1M469 676.5h2M474 679.5h2M476 680.5h1M480 681.5h1M481 682.5h2M486 684.5h2M488 685.5h1M492 687.5h3M498 688.5h3M504 689.5h3M510 690.5h3M516 691.5h3M522 691.5h3M528 691.5h1M529 690.5h2M534 690.5h1M535 689.5h2M540 688.5h2M542 687.5h1M546 686.5h1M547 685.5h2M552 683.5h1M553 682.5h1M554 681.5h1M558 679.5h2M560 678.5h1M564 676.5h2M566 675.5h1M570 674.5h1M571 673.5h2M576 671.5h2M578 670.5h1M582 668.5h3M588 666.5h3M594 665.5h1M595 664.5h2M600 663.5h3M606 662.5h3M612 661.5h3M618 660.5h3M624 660.5h1M625 659.5h2M630 659.5h1M631 658.5h2M636 657.5h3M642 656.5h3M648 655.5h3M654 653.5h3M660 651.5h2M662 650.5h1M666 649.5h1M667 648.5h2M672 646.5h1M673 645.5h1M674 644.5h1M678 642.5h1M679 641.5h2M684 638.5h1M685 637.5h1M686 636.5h1M690 633.5h1M691 632.5h1M692 631.5h1M696 628.5h1M697 627.5h2M702 624.5h1M703 623.5h1M704 622.5h1M708 619.5h1M709 618.5h2M714 615.5h2M716 614.5h1M720 611.5h1M721 610.5h2M726 607.5h1M727 606.5h1M728 605.5h1M732 602.5h1M733 601.5h2M738 598.5h2M740 597.5h1M744 596.5h1M745 595.5h2M750 594.5h1M751 593.5h2M756 592.5h3M762 591.5h3M768 591.5h1M769 592.5h2M774 593.5h3M780 595.5h3M786 596.5h1M787 597.5h2M792 598.5h1M793 599.5h2M798 601.5h3M804 603.5h2M806 604.5h1M810 606.5h2M812 607.5h1M816 608.5h1M817 609.5h2M822 610.5h1M823 611.5h2M828 612.5h3M834 613.5h1M835 614.5h2M840 615.5h3M846 616.5h1M847 617.5h2M852 618.5h2M854 619.5h1M858 620.5h1M859 621.5h2M864 622.5h3M870 623.5h1M871 624.5h2M876 625.5h3M882 626.5h1M883 627.5h2M888 627.5h1M889 628.5h2M894 628.5h3M900 628.5h3M906 628.5h3M912 628.5h1M913 627.5h2M918 627.5h1M919 626.5h2M924 625.5h3M930 624.5h3M936 624.5h1M937 623.5h2M942 623.5h3M948 623.5h3M954 623.5h3M960 624.5h3M966 626.5h1M967 627.5h2M972 630.5h1M973 631.5h1M974 632.5h1M978 636.5h1M979 637.5h1M980 638.5h1M984 642.5h1M985 643.5h1M986 644.5h1M989 648.5h1M990 649.5h1M991 650.5h1M993 654.5h1M994 655.5h1M995 656.5h1M997 660.5h1M998 661.5h1M999 662.5h1M1002 666.5h1M1003.5 667v2M1006 672.5h1M1007 673.5h1M1008 674.5h1M1011.5 678v2M1012 680.5h1M1015 684.5h1M1016.5 685v2M1019 690.5h1M1020 691.5h1M1021 692.5h1M1024 696.5h1M1025 697.5h1M1026 698.5h1M1030 702.5h1M1031 703.5h2M1036 707.5h1M1037 708.5h2M1042 711.5h2M1044 712.5h1M1048 714.5h2M1050 715.5h1M1054 717.5h3M1060 719.5h2M1062 720.5h1M1066 722.5h2M1068 723.5h1M1072 724.5h3M1078 725.5h3M1084 726.5h3M1090 727.5h1M1091 728.5h2M1096 729.5h3M1102 730.5h3M1108 731.5h3M1114 731.5h3M1120 731.5h1M1121 730.5h2M1126 730.5h1M1127 729.5h2M1132 728.5h2M1134 727.5h1M1138 726.5h1M1139 725.5h2M1144 723.5h2M1146 722.5h1M1150 720.5h1M1151 719.5h2M1156 716.5h1M1157 715.5h2M1162 712.5h1M1163 711.5h1M1164 710.5h1M1168 708.5h2M1170 707.5h1M1174 705.5h1M1175 704.5h2M1180 701.5h1M1181 700.5h2M1186 697.5h2M1188 696.5h1M1192 694.5h1M1193 693.5h1M1194 692.5h1M1198 690.5h3M1204 688.5h2M1206 687.5h1M1210 686.5h1M1211 685.5h2M1216 684.5h1M1217 683.5h2M1222 682.5h1M1223 681.5h2M1228 680.5h3M1234 679.5h1M1235 678.5h2M1240 678.5h1M1241 677.5h2M1246 677.5h3M1252 676.5h3M1258 675.5h3M1264 675.5h3M1270 675.5h3M1276 674.5h3M1282 673.5h1M1283 672.5h2M1288 672.5h1M1289 671.5h2M1294 671.5h3M1300 670.5h3M1306 669.5h3M1312 669.5h1M1313 668.5h2M1318 668.5h3M1324 668.5h3M1330 668.5h3M1336 669.5h3M1342 670.5h3M1348 671.5h3M1354 672.5h3M1360 672.5h3M1366 672.5h3M1372 672.5h3M1378 671.5h3M1384 670.5h3M1390 668.5h3M1396 666.5h2M1398 665.5h1M1402 663.5h2M1404 662.5h1M1408 660.5h2M1410 659.5h1M1414 657.5h3M1420 655.5h2M1422 654.5h1M1426 652.5h2M1428 651.5h1M1432 650.5h1M1433 649.5h2M1438 648.5h1M1439 647.5h2M1444 646.5h3M1450 645.5h1M1451 644.5h2M1456 644.5h1M1457 643.5h2M1462 643.5h3M1468 642.5h3M1474 641.5h3M1480 641.5h1M1481 640.5h2M1486 640.5h1M1487 639.5h2M1492 638.5h3M1498 637.5h3" fill="none" stroke="#ff0000" stroke-width="1"/>
</g>
<text x="0.4" y="590" font-size="9.4px" shape-rendering="auto">MACD(12,26,9) 0.008346 0.007119</text>
<rect x="1687" y="579" width="2" height="1" fill="#000"/>
<text x="1690.5" y="588" shape-rendering="auto">0.0165</text>
<rect x="1687" y="681" width="2" height="1" fill="#000"/>
<text x="1690.5" y="685" shape-rendering="auto">0.00</text>
<rect x="1687" y="746" width="2" height="1" fill="#000"/>
<text x="1690.3" y="744" font-size="9.1px" shape-rendering="auto">-0.010571</text>
<g clip-path="url(#c3)">
<line x1="3" y1="785.5" x2="1686" y2="785.5" stroke="#c0c0c0" stroke-width="1" stroke-dasharray="3 3"/>
<line x1="3" y1="836.5" x2="1686" y2="836.5" stroke="#c0c0c0" stroke-width="1" stroke-dasharray="3 3"/>
<line x1="3" y1="897.5" x2="1686" y2="897.5" stroke="#c0c0c0" stroke-width="1" stroke-dasharray="3 3"/>
<path d="M0.5 840v2M1 842.5h1M2 843.5h1M3 844.5h1M4 845.5h3M7 844.5h4M11 843.5h3M14 842.5h3M17 841.5h2M19 840.5h14M33 839.5h4M37 838.5h2M39 837.5h1M40 836.5h1M41 835.5h2M43 834.5h1M44 833.5h5M49 832.5h5M54 831.5h2M56 830.5h2M58 829.5h2M60 828.5h1M61 827.5h1M62.5 825v2M63 824.5h1M64 823.5h1M65 822.5h1M66.5 820v2M67 819.5h1M68 818.5h1M69.5 819v2M70 821.5h1M71 822.5h1M72.5 823v2M73 825.5h1M74 826.5h1M75.5 827v2M76 829.5h2M78 830.5h3M81 831.5h2M83 832.5h4M87 833.5h4M91 834.5h10M101.5 835v2M102.5 837v2M103 839.5h1M104.5 840v2M105 842.5h1M106.5 843v2M107.5 845v2M108 847.5h1M109 846.5h2M111 845.5h2M113 844.5h1M114 843.5h2M116 842.5h1M117 841.5h2M119 840.5h2M121 839.5h1M122 838.5h2M124 837.5h5M129 836.5h4M133 837.5h1M134.5 838v2M135 840.5h1M136 841.5h1M137 842.5h1M138.5 843v2M139 845.5h1M140 846.5h1M141 847.5h1M142 848.5h1M143 849.5h1M144 850.5h1M145 851.5h1M146 852.5h1M147 853.5h1M148 854.5h5M153 855.5h12M165.5 856v2M166 858.5h1M167 859.5h1M168.5 860v2M169 862.5h1M170 863.5h1M171.5 864v2M172 866.5h3M175 867.5h4M179 868.5h2M180 867.5h1M181.5 865v2M182.5 863v2M183.5 861v2M184.5 859v2M185.5 857v2M186.5 855v2M187.5 853v2M188.5 851v2M189 850.5h1M190 849.5h1M191 848.5h2M193 847.5h1M194 846.5h1M195 845.5h1M196 844.5h3M199 845.5h4M203 846.5h4M207 847.5h4M211 848.5h2M213 849.5h2M215 850.5h2M217 851.5h1M218 852.5h2M220 853.5h3M223 852.5h4M227 851.5h3M230 850.5h3M233 849.5h2M235 848.5h2M236 847.5h1M237.5 845v2M238.5 843v2M239.5 841v2M240.5 839v2M241.5 837v2M242.5 835v2M243.5 833v2M244.5 831v2M245 832.5h1M246 833.5h1M247 834.5h1M248 835.5h1M249 836.5h1M250 837.5h1M251 838.5h1M252 839.5h1M253 838.5h2M255 837.5h1M256 836.5h1M257 835.5h2M259 834.5h1M260 833.5h5M265 832.5h6M271 831.5h4M275 830.5h2M277.5 828v2M278.5 826v2M279.5 824v2M280 823.5h1M281.5 821v2M282.5 819v2M283.5 817v2M284 816.5h1M285 815.5h1M286 814.5h1M287 813.5h1M288.5 811v2M289 810.5h1M290 809.5h1M291 808.5h1M292 807.5h3M295 808.5h4M299 809.5h4M303 808.5h4M307 807.5h2M309 806.5h2M311 805.5h2M313 804.5h1M314 803.5h2M316 802.5h2M318 801.5h2M320 800.5h2M322 799.5h2M324 798.5h10M334 799.5h2M336 800.5h2M338 801.5h2M340 802.5h9M348 803.5h1M349.5 804v3M350.5 807v2M351.5 809v3M352.5 812v3M353.5 815v3M354.5 818v2M355.5 820v3M356.5 823v2M357.5 825v2M358 827.5h1M359 828.5h1M360.5 829v2M361 831.5h1M362 832.5h1M363.5 833v2M364 835.5h3M367 834.5h4M371 833.5h2M373.5 831v2M374 830.5h1M375.5 828v2M376 827.5h1M377.5 825v2M378 824.5h1M379.5 822v2M380 821.5h1M381 822.5h2M383 823.5h1M384 824.5h1M385 825.5h2M387 826.5h1M388 827.5h2M390 828.5h2M392 829.5h2M394 830.5h2M396 831.5h1M397.5 832v2M398.5 834v2M399 836.5h1M400.5 837v2M401 839.5h1M402.5 840v2M403.5 842v2M404 844.5h1M405 845.5h1M406 846.5h1M407 847.5h2M409 848.5h1M410 849.5h1M411 850.5h1M412 851.5h5M417 852.5h4M420 851.5h1M421.5 849v2M422.5 847v2M423.5 845v2M424.5 842v3M425.5 840v2M426.5 838v2M427.5 836v2M428 834.5h3M428 835.5h1M431 833.5h4M435 832.5h2M437.5 833v2M438 835.5h1M439 836.5h1M440.5 837v2M441 839.5h1M442 840.5h1M443.5 841v2M444 843.5h5M449 842.5h4M453 843.5h1M454 844.5h1M455 845.5h2M457 846.5h1M458 847.5h1M459 848.5h1M460 849.5h5M465 850.5h6M471 851.5h4M475 852.5h2M477 851.5h1M478 850.5h1M479 849.5h1M480.5 847v2M481 846.5h1M482 845.5h1M483 844.5h1M484 843.5h1M485 842.5h1M486 841.5h1M487 840.5h1M488.5 838v2M489 837.5h1M490 836.5h1M491 835.5h1M492 834.5h13M505 833.5h13M518 832.5h3M521 831.5h2M523 830.5h3M526 829.5h2M528 828.5h2M530 827.5h2M532 826.5h1M533 825.5h1M534 824.5h1M535 823.5h1M536 822.5h1M537 821.5h1M538 820.5h1M539 819.5h1M540 818.5h5M545 819.5h5M550 818.5h2M552 817.5h2M554 816.5h2M556 815.5h5M561 816.5h4M565.5 817v2M566.5 819v2M567 821.5h1M568.5 822v2M569 824.5h1M570.5 825v2M571.5 827v2M572 829.5h3M575 828.5h4M579 827.5h3M582 826.5h3M585 825.5h2M587 824.5h2M589 825.5h2M591 826.5h2M593 827.5h1M594 828.5h2M596 829.5h5M601 828.5h12M613.5 826v2M614 825.5h1M615.5 823v2M616 822.5h1M617.5 820v2M618 819.5h1M619.5 817v2M620 816.5h1M621 815.5h1M622 814.5h1M623 813.5h1M624 812.5h1M625 811.5h1M626 810.5h1M627 809.5h1M628 808.5h5M633 809.5h6M639 808.5h4M643 807.5h2M645 806.5h2M647 805.5h2M649 804.5h1M650 803.5h2M652 802.5h3M655 801.5h4M659 800.5h2M661 799.5h1M662 798.5h1M663 797.5h1M664 796.5h1M665 795.5h1M666 794.5h1M667 793.5h1M668 792.5h2M670 791.5h3M673 790.5h2M675 789.5h3M678 788.5h2M680 787.5h2M682 786.5h2M684 785.5h1M685 784.5h1M686 783.5h1M687 782.5h2M689 781.5h1M690 780.5h1M691 779.5h1M692 778.5h2M694 779.5h3M697 780.5h2M699 781.5h6M705 782.5h4M709 783.5h2M711 784.5h2M713 785.5h1M714 786.5h2M716 787.5h10M726 786.5h3M729 785.5h2M731 784.5h6M737 783.5h4M740 784.5h1M741.5 785v3M742.5 788v2M743.5 790v3M744.5 793v3M745.5 796v3M746.5 799v2M747.5 801v3M748.5 804v2M749 805.5h9M758 804.5h3M761 803.5h2M763 802.5h2M765 803.5h2M767 804.5h1M768 805.5h1M769 806.5h2M771 807.5h1M772 808.5h3M775 809.5h4M779 810.5h3M782 809.5h3M785 808.5h2M787 807.5h3M790 806.5h3M793 805.5h2M795 804.5h4M799 803.5h4M803 802.5h10M813.5 800v2M814.5 798v2M815.5 796v2M816.5 794v2M817.5 792v2M818.5 790v2M819 788.5h2M819 789.5h1M820 787.5h1M821.5 789v4M822.5 793v4M823.5 797v4M824.5 801v4M825.5 805v4M826.5 809v4M827.5 813v4M828 817.5h2M828 818.5h1M830.5 815v2M831 814.5h1M832 813.5h1M833 812.5h1M834.5 810v2M835 809.5h2M836 808.5h1M837.5 810v2M838.5 812v2M839.5 814v3M840.5 817v2M841.5 819v3M842.5 822v2M843.5 824v2M844.5 826v2M845 827.5h9M854 828.5h3M857 829.5h2M859 830.5h2M861 829.5h1M862 828.5h1M863 827.5h1M864.5 825v2M865 824.5h1M866 823.5h1M867 822.5h1M868 821.5h1M869 820.5h1M870 819.5h1M871 818.5h2M873 817.5h1M874 816.5h1M875 815.5h1M876 814.5h2M878 815.5h3M881 816.5h2M883 817.5h2M885.5 815v2M886 814.5h1M887 813.5h1M888.5 811v2M889 810.5h1M890 809.5h1M891.5 807v2M892 806.5h3M895 805.5h4M899 804.5h11M910 803.5h3M913 802.5h2M915 801.5h2M917 802.5h1M918 803.5h1M919 804.5h1M920.5 805v2M921 807.5h1M922 808.5h1M923 809.5h1M924 810.5h1M925.5 811v2M926.5 813v2M927 815.5h1M928.5 816v2M929 818.5h1M930.5 819v2M931.5 821v2M932 823.5h2M934 822.5h3M937 821.5h2M939 820.5h2M941 821.5h2M943 822.5h1M944 823.5h1M945 824.5h2M947 825.5h1M948 826.5h1M949.5 827v2M950 829.5h1M951 830.5h1M952.5 831v2M953 833.5h1M954 834.5h1M955.5 835v2M956.5 837v2M957.5 839v2M958.5 841v3M959.5 844v2M960.5 846v3M961.5 849v2M962.5 851v3M963.5 854v2M964.5 856v2M965 857.5h1M966 856.5h2M968 855.5h2M970 854.5h2M972 853.5h1M973.5 854v2M974.5 856v2M975 858.5h1M976.5 859v2M977 861.5h1M978.5 862v2M979.5 864v2M980 866.5h3M983 867.5h4M987 868.5h4M991 867.5h4M995 866.5h2M997 865.5h2M999 864.5h1M1000 863.5h1M1001 862.5h2M1003 861.5h1M1004 860.5h2M1006 859.5h2M1008 858.5h2M1010 857.5h2M1012 856.5h1M1013 855.5h1M1014.5 853v2M1015 852.5h1M1016 851.5h1M1017 850.5h1M1018.5 848v2M1019 847.5h1M1020 846.5h3M1023 845.5h4M1027 844.5h2M1029 845.5h2M1031 846.5h2M1033 847.5h1M1034 848.5h2M1036 849.5h5M1041 848.5h4M1045 849.5h1M1046.5 850v2M1047 852.5h1M1048 853.5h1M1049 854.5h1M1050.5 855v2M1051 857.5h1M1052 858.5h1M1053 859.5h2M1055 860.5h1M1056 861.5h1M1057 862.5h2M1059 863.5h1M1060 864.5h3M1063 865.5h4M1067 866.5h2M1069 865.5h2M1071 864.5h1M1072 863.5h1M1073 862.5h2M1075 861.5h1M1076 860.5h3M1079 861.5h4M1083 862.5h3M1086 861.5h2M1088 860.5h2M1090 859.5h2M1092.5 857v2M1093.5 855v2M1094.5 853v2M1095.5 851v2M1096.5 849v2M1097.5 847v2M1098.5 845v2M1099.5 843v2M1100 842.5h5M1105 843.5h4M1109 842.5h2M1111 841.5h1M1112 840.5h1M1113 839.5h2M1115 838.5h1M1116 837.5h2M1118 838.5h3M1121 839.5h2M1123 840.5h2M1125 839.5h2M1127 838.5h1M1128 837.5h1M1129 836.5h2M1131 835.5h1M1132 834.5h5M1137 835.5h4M1141 834.5h1M1142 833.5h1M1143 832.5h1M1144 831.5h1M1145 830.5h1M1146 829.5h1M1147 828.5h1M1148 827.5h1M1149.5 828v2M1150.5 830v2M1151.5 832v2M1152 834.5h1M1153.5 835v2M1154.5 837v2M1155.5 839v2M1156 841.5h2M1158 840.5h2M1160 839.5h2M1162 838.5h2M1164 837.5h2M1166 836.5h3M1169 835.5h2M1171 834.5h2M1173.5 832v2M1174 831.5h1M1175 830.5h1M1176.5 828v2M1177 827.5h1M1178 826.5h1M1179.5 824v2M1180 823.5h5M1185 824.5h5M1190 823.5h2M1192 822.5h2M1194 821.5h3M1196 820.5h1M1197.5 822v2M1198.5 824v2M1199.5 826v2M1200.5 828v3M1201.5 831v2M1202.5 833v2M1203.5 835v2M1204 837.5h2M1204 838.5h1M1206 836.5h1M1207 835.5h1M1208.5 833v2M1209 832.5h1M1210 831.5h1M1211 830.5h1M1212 829.5h1M1213.5 830v2M1214.5 832v2M1215 834.5h1M1216.5 835v2M1217 837.5h1M1218.5 838v2M1219.5 840v2M1220 842.5h2M1222 841.5h2M1224 840.5h2M1226 839.5h2M1228 838.5h5M1233 839.5h5M1238 838.5h3M1241 837.5h2M1243 836.5h6M1249 835.5h4M1252 834.5h1M1253.5 832v2M1254.5 830v2M1255.5 828v2M1256.5 826v2M1257.5 824v2M1258.5 822v2M1259.5 820v2M1260.5 818v2M1261 819.5h2M1263 820.5h1M1264 821.5h1M1265 822.5h2M1267 823.5h1M1268 824.5h1M1269 825.5h2M1271 826.5h2M1273 827.5h1M1274 828.5h2M1276 829.5h3M1279 828.5h4M1283 827.5h2M1285 828.5h2M1287 829.5h2M1289 830.5h1M1290 831.5h2M1292 832.5h3M1295 831.5h4M1299 830.5h2M1301 831.5h2M1303 832.5h1M1304 833.5h1M1305 834.5h2M1307 835.5h1M1308 836.5h1M1309 837.5h1M1310 838.5h1M1311 839.5h2M1313 840.5h1M1314 841.5h1M1315 842.5h1M1316 843.5h2M1318 842.5h2M1320 841.5h2M1322 840.5h2M1324 839.5h2M1326 840.5h2M1328 841.5h2M1330 842.5h2M1332 843.5h5M1337 844.5h4M1340 843.5h1M1341.5 840v3M1342.5 837v3M1343.5 834v3M1344.5 831v3M1345.5 828v3M1346.5 825v3M1347.5 822v3M1348.5 820v2M1349.5 822v2M1350.5 824v2M1351.5 826v2M1352.5 828v3M1353.5 831v2M1354.5 833v2M1355.5 835v2M1356 837.5h2M1356 838.5h1M1357 836.5h1M1358.5 834v2M1359.5 832v2M1360.5 830v2M1361.5 828v2M1362.5 826v2M1363.5 824v2M1364 823.5h3M1367 822.5h4M1371 821.5h4M1375 820.5h4M1379 819.5h4M1383 820.5h4M1387 821.5h2M1389 820.5h1M1390 819.5h1M1391 818.5h1M1392 817.5h1M1393 816.5h1M1394 815.5h1M1395 814.5h1M1396 813.5h1M1397 814.5h2M1399 815.5h2M1401 816.5h1M1402 817.5h2M1404 818.5h1M1405.5 819v2M1406 821.5h1M1407.5 822v2M1408 824.5h1M1409.5 825v2M1410 827.5h1M1411.5 828v2M1412 830.5h1M1413 829.5h2M1415 828.5h2M1417 827.5h1M1418 826.5h2M1420 825.5h2M1422 824.5h2M1424 823.5h2M1426 822.5h2M1428 821.5h10M1438 820.5h3M1441 819.5h2M1443 818.5h6M1449 819.5h13M1462 818.5h3M1465 817.5h2M1467 816.5h4M1471 815.5h4M1475 814.5h3M1478 813.5h3M1481 812.5h2M1483 811.5h3M1486 810.5h3M1489 809.5h2M1491 808.5h4M1495 807.5h4M1499 806.5h2" fill="none" stroke="#1e90ff" stroke-width="1"/>
</g>
<text x="0.5" y="762" shape-rendering="auto">RSI(14) 68.0412</text>
<rect x="1687" y="751" width="2" height="1" fill="#000"/>
<text x="1690.5" y="760" shape-rendering="auto">100</text>
<text x="1689.5" y="789" shape-rendering="auto">80</text>
<text x="1689.5" y="840" shape-rendering="auto">50</text>
<text x="1689.5" y="901" shape-rendering="auto">15</text>
<text x="1689.5" y="920" shape-rendering="auto">0</text>
<rect x="1687" y="922" width="2" height="1" fill="#000"/>
<rect x="-4" y="924" width="1" height="3" fill="#000"/>
<text x="-4.8" y="935.8" font-size="9.6px" shape-rendering="auto">20 Apr 2020</text>
<rect x="60" y="924" width="1" height="3" fill="#000"/>
<text x="59.2" y="935.8" font-size="9.6px" shape-rendering="auto">29 Apr 2020</text>
<rect x="124" y="924" width="1" height="3" fill="#000"/>
<text x="123.2" y="935.8" font-size="9.6px" shape-rendering="auto">8 May 2020</text>
<rect x="188" y="924" width="1" height="3" fill="#000"/>
<text x="187.2" y="935.8" font-size="9.6px" shape-rendering="auto">18 May 2020</text>
<rect x="252" y="924" width="1" height="3" fill="#000"/>
<text x="251.2" y="935.8" font-size="9.6px" shape-rendering="auto">27 May 2020</text>
<rect x="316" y="924" width="1" height="3" fill="#000"/>
<text x="315.2" y="935.8" font-size="9.6px" shape-rendering="auto">5 Jun 2020</text>
<rect x="380" y="924" width="1" height="3" fill="#000"/>
<text x="379.2" y="935.8" font-size="9.6px" shape-rendering="auto">15 Jun 2020</text>
<rect x="444" y="924" width="1" height="3" fill="#000"/>
<text x="443.2" y="935.8" font-size="9.6px" shape-rendering="auto">24 Jun 2020</text>
<rect x="508" y="924" width="1" height="3" fill="#000"/>
<text x="507.2" y="935.8" font-size="9.6px" shape-rendering="auto">3 Jul 2020</text>
<rect x="572" y="924" width="1" height="3" fill="#000"/>
<text x="571.2" y="935.8" font-size="9.6px" shape-rendering="auto">13 Jul 2020</text>
<rect x="636" y="924" width="1" height="3" fill="#000"/>
<text x="635.2" y="935.8" font-size="9.6px" shape-rendering="auto">22 Jul 2020</text>
<rect x="700" y="924" width="1" height="3" fill="#000"/>
<text x="699.2" y="935.8" font-size="9.6px" shape-rendering="auto">31 Jul 2020</text>
<rect x="764" y="924" width="1" height="3" fill="#000"/>
<text x="763.2" y="935.8" font-size="9.6px" shape-rendering="auto">10 Aug 2020</text>
<rect x="828" y="924" width="1" height="3" fill="#000"/>
<text x="827.2" y="935.8" font-size="9.6px" shape-rendering="auto">19 Aug 2020</text>
<rect x="892" y="924" width="1" height="3" fill="#000"/>
<text x="891.2" y="935.8" font-size="9.6px" shape-rendering="auto">28 Aug 2020</text>
<rect x="956" y="924" width="1" height="3" fill="#000"/>
<text x="955.2" y="935.8" font-size="9.6px" shape-rendering="auto">7 Sep 2020</text>
<rect x="1020" y="924" width="1" height="3" fill="#000"/>
<text x="1019.2" y="935.8" font-size="9.6px" shape-rendering="auto">16 Sep 2020</text>
<rect x="1084" y="924" width="1" height="3" fill="#000"/>
<text x="1083.2" y="935.8" font-size="9.6px" shape-rendering="auto">25 Sep 2020</text>
<rect x="1148" y="924" width="1" height="3" fill="#000"/>
<text x="1147.2" y="935.8" font-size="9.6px" shape-rendering="auto">5 Oct 2020</text>
<rect x="1212" y="924" width="1" height="3" fill="#000"/>
<text x="1211.2" y="935.8" font-size="9.6px" shape-rendering="auto">14 Oct 2020</text>
<rect x="1276" y="924" width="1" height="3" fill="#000"/>
<text x="1275.2" y="935.8" font-size="9.6px" shape-rendering="auto">23 Oct 2020</text>
<rect x="1340" y="924" width="1" height="3" fill="#000"/>
<text x="1339.2" y="935.8" font-size="9.6px" shape-rendering="auto">2 Nov 2020</text>
<rect x="1404" y="924" width="1" height="3" fill="#000"/>
<text x="1403.2" y="935.8" font-size="9.6px" shape-rendering="auto">11 Nov 2020</text>
<rect x="1468" y="924" width="1" height="3" fill="#000"/>
<text x="1467.2" y="935.8" font-size="9.6px" shape-rendering="auto">20 Nov 2020</text>
</svg>
<div id="panel">
  <div class="sell"><span style="letter-spacing:-0.8px;position:relative;left:-1.5px">SELL</span><i></i></div>
  <div class="buy">BUY<i></i></div>
  <div class="big bl"><span class="sm" style="left:20px">1.33</span><span class="lg" style="left:46px">82</span><span class="sup" style="left:86px">9</span></div>
  <div class="big br"><span class="sm" style="left:20px">1.33</span><span class="lg" style="left:46px">87</span><span class="sup" style="left:86px">8</span></div>
  <div class="spin">
    <div class="b" style="left:0"><svg width="18" height="18" style="position:absolute;left:0;top:0"><polygon points="6,7 12,7 9,10.5" fill="#4a60b8"/></svg></div>
    <span class="v">1.00</span>
    <div class="b" style="right:0"><svg width="18" height="18" style="position:absolute;left:0;top:0"><polygon points="6,10.5 12,10.5 9,7" fill="#4a60b8"/></svg></div>
  </div>
</div>
</body>
</html>
